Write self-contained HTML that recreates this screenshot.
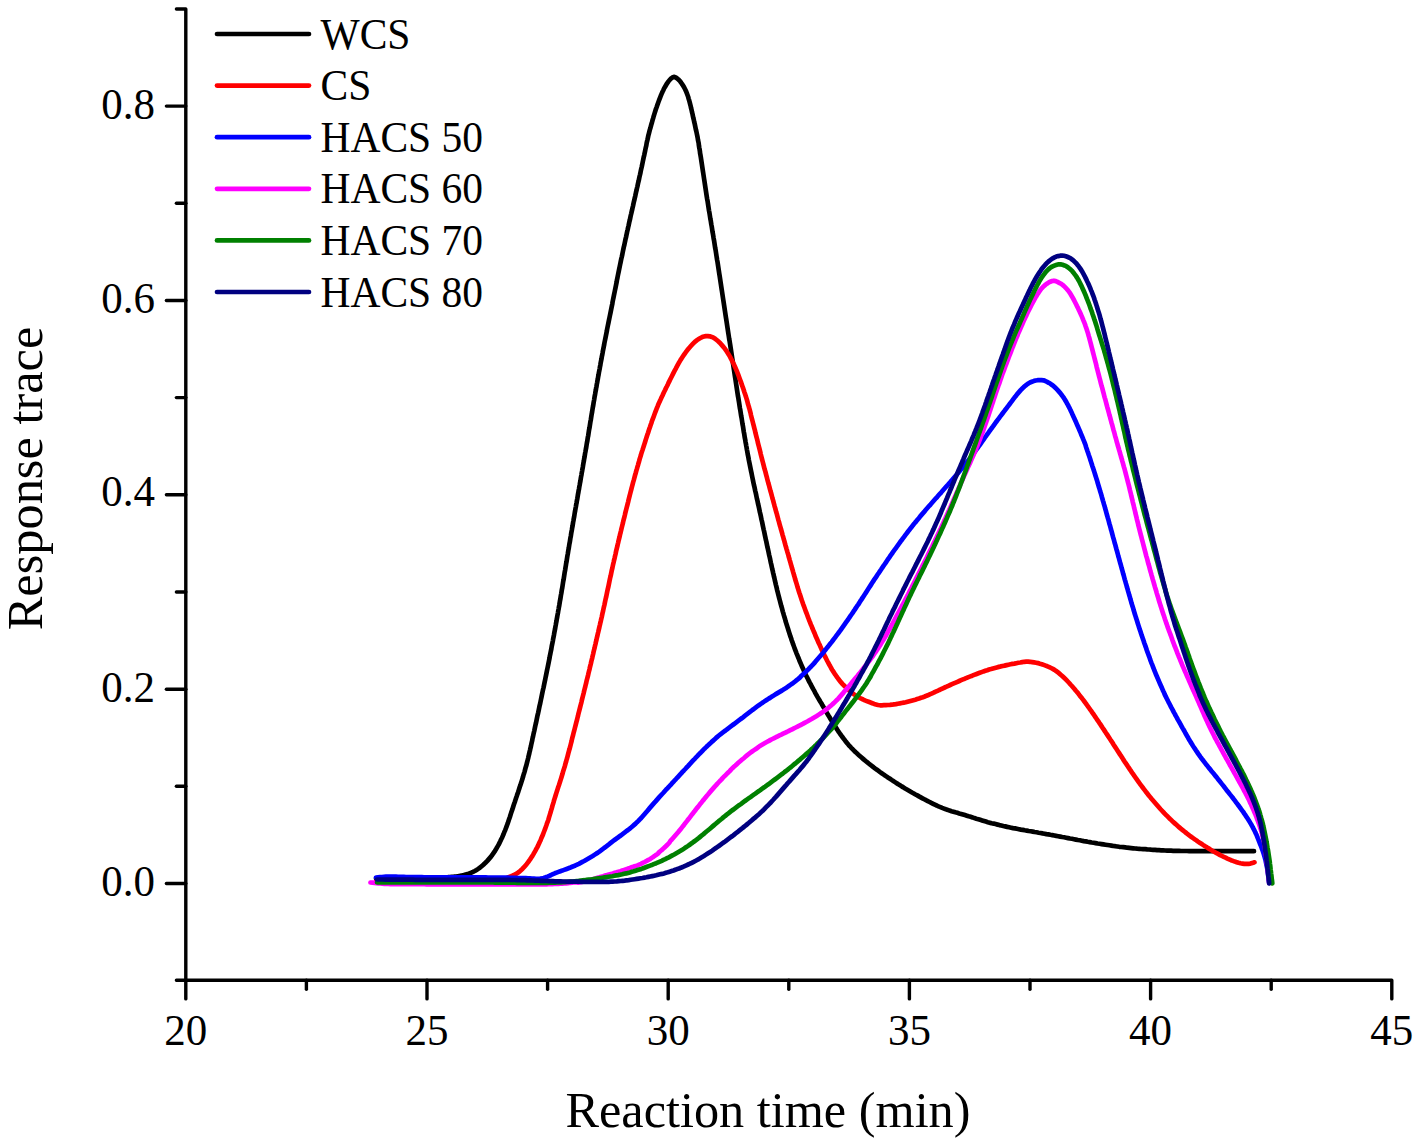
<!DOCTYPE html>
<html><head><meta charset="utf-8"><style>
html,body{margin:0;padding:0;background:#fff;}
svg{display:block;}
text{font-family:"Liberation Serif",serif;fill:#000;}
</style></head><body>
<svg width="1417" height="1144" viewBox="0 0 1417 1144">
<g fill="none" stroke-width="4.7" stroke-linejoin="round" stroke-linecap="round">
<path d="M376.0,878.5 L378.0,878.5 L380.0,878.5 L382.0,878.5 L384.0,878.5 L386.0,878.5 L388.0,878.5 L390.0,878.5 L392.0,878.5 L394.0,878.5 L396.0,878.5 L398.0,878.5 L400.0,878.5 L402.0,878.5 L404.0,878.5 L406.0,878.4 L408.0,878.4 L410.0,878.4 L412.0,878.4 L414.0,878.4 L416.0,878.3 L418.0,878.3 L420.0,878.3 L422.0,878.3 L424.0,878.2 L426.0,878.2 L428.0,878.1 L430.0,878.1 L432.0,878.0 L434.0,877.9 L436.0,877.8 L438.0,877.7 L440.0,877.6 L442.0,877.5 L444.0,877.3 L446.0,877.3 L448.0,877.2 L449.9,877.0 L451.9,876.8 L453.9,876.7 L455.9,876.5 L457.9,876.2 L459.9,875.9 L461.8,875.5 L463.8,875.1 L465.7,874.6 L467.6,874.1 L469.4,873.4 L471.3,872.7 L473.0,871.9 L474.8,871.0 L476.5,870.0 L478.2,868.9 L479.8,867.8 L481.3,866.5 L482.8,865.2 L484.3,863.9 L485.7,862.5 L487.1,861.1 L488.4,859.6 L489.7,858.1 L491.0,856.6 L492.2,855.0 L493.3,853.4 L494.5,851.7 L495.5,850.1 L496.5,848.3 L497.5,846.6 L498.5,844.9 L499.4,843.1 L500.3,841.3 L501.1,839.5 L502.0,837.7 L502.8,835.9 L503.6,834.0 L504.3,832.2 L505.1,830.3 L505.8,828.5 L506.5,826.6 L507.2,824.7 L507.9,822.9 L508.5,821.0 L509.1,819.1 L509.8,817.2 L510.4,815.3 L511.0,813.4 L511.6,811.5 L512.3,809.6 L512.9,807.7 L513.5,805.8 L514.1,803.9 L514.8,802.0 L515.4,800.1 L516.0,798.2 L516.7,796.3 L517.3,794.4 L518.0,792.5 L518.6,790.6 L519.2,788.7 L519.8,786.8 L520.5,784.9 L521.1,783.0 L521.7,781.1 L522.3,779.2 L522.9,777.3 L523.4,775.4 L524.0,773.5 L524.6,771.6 L525.1,769.6 L525.6,767.7 L526.2,765.8 L526.7,763.9 L527.2,761.9 L527.7,760.0 L528.2,758.0 L528.6,756.1 L529.1,754.2 L529.5,752.2 L530.0,750.3 L530.4,748.3 L530.9,746.4 L531.3,744.4 L531.7,742.5 L532.2,740.5 L532.5,738.5 L533.0,736.6 L533.4,734.6 L533.8,732.7 L534.3,730.7 L534.7,728.8 L535.1,726.8 L535.5,724.9 L536.0,722.9 L536.4,721.0 L536.8,719.0 L537.2,717.0 L537.6,715.1 L538.1,713.1 L538.5,711.2 L538.9,709.2 L539.3,707.3 L539.7,705.3 L540.2,703.4 L540.6,701.4 L541.0,699.4 L541.4,697.5 L541.8,695.5 L542.2,693.6 L542.6,691.6 L543.0,689.7 L543.5,687.7 L543.9,685.7 L544.3,683.8 L544.7,681.8 L545.1,679.9 L545.5,677.9 L545.9,676.0 L546.3,674.0 L546.7,672.0 L547.1,670.1 L547.5,668.1 L547.9,666.2 L548.3,664.2 L548.7,662.2 L549.1,660.3 L549.5,658.3 L549.8,656.3 L550.2,654.4 L550.6,652.4 L551.0,650.5 L551.4,648.5 L551.7,646.5 L552.1,644.6 L552.5,642.6 L552.9,640.6 L553.2,638.7 L553.6,636.7 L554.0,634.7 L554.3,632.8 L554.7,630.8 L555.1,628.8 L555.4,626.9 L555.8,624.9 L556.1,622.9 L556.5,621.0 L556.8,619.0 L557.2,617.0 L557.5,615.1 L557.9,613.1 L558.2,611.1 L558.6,609.1 L558.9,607.2 L559.3,605.2 L559.6,603.2 L559.9,601.3 L560.3,599.3 L560.6,597.3 L560.9,595.4 L561.3,593.4 L561.6,591.4 L561.9,589.4 L562.3,587.5 L562.6,585.5 L562.9,583.5 L563.2,581.5 L563.6,579.6 L563.9,577.6 L564.2,575.6 L564.5,573.6 L564.8,571.7 L565.2,569.7 L565.5,567.7 L565.8,565.8 L566.1,563.8 L566.5,561.8 L566.8,559.8 L567.1,557.9 L567.4,555.9 L567.8,553.9 L568.1,551.9 L568.4,550.0 L568.8,548.0 L569.1,546.0 L569.4,544.0 L569.8,542.1 L570.1,540.1 L570.4,538.1 L570.8,536.2 L571.1,534.2 L571.4,532.2 L571.8,530.2 L572.1,528.3 L572.5,526.3 L572.8,524.3 L573.1,522.4 L573.5,520.4 L573.8,518.4 L574.2,516.5 L574.5,514.5 L574.8,512.5 L575.2,510.5 L575.5,508.6 L575.9,506.6 L576.2,504.6 L576.6,502.7 L576.9,500.7 L577.3,498.7 L577.6,496.8 L577.9,494.8 L578.3,492.8 L578.6,490.8 L579.0,488.9 L579.3,486.9 L579.7,484.9 L580.0,483.0 L580.4,481.0 L580.7,479.0 L581.0,477.1 L581.4,475.1 L581.7,473.1 L582.1,471.1 L582.4,469.2 L582.8,467.2 L583.1,465.2 L583.4,463.3 L583.8,461.3 L584.1,459.3 L584.5,457.3 L584.8,455.4 L585.1,453.4 L585.5,451.4 L585.8,449.5 L586.2,447.5 L586.5,445.5 L586.8,443.5 L587.2,441.6 L587.5,439.6 L587.8,437.6 L588.2,435.7 L588.5,433.7 L588.8,431.7 L589.1,429.7 L589.5,427.8 L589.8,425.8 L590.1,423.8 L590.4,421.8 L590.8,419.9 L591.1,417.9 L591.4,415.9 L591.7,414.0 L592.1,412.0 L592.4,410.0 L592.7,408.0 L593.1,406.1 L593.4,404.1 L593.7,402.1 L594.1,400.1 L594.4,398.2 L594.7,396.2 L595.1,394.2 L595.4,392.3 L595.8,390.3 L596.1,388.3 L596.5,386.4 L596.8,384.4 L597.2,382.4 L597.5,380.4 L597.9,378.5 L598.2,376.5 L598.6,374.5 L598.9,372.6 L599.3,370.6 L599.7,368.6 L600.0,366.7 L600.4,364.7 L600.7,362.7 L601.1,360.8 L601.5,358.8 L601.8,356.8 L602.2,354.9 L602.6,352.9 L602.9,350.9 L603.3,349.0 L603.7,347.0 L604.1,345.1 L604.4,343.1 L604.8,341.1 L605.2,339.2 L605.6,337.2 L606.0,335.2 L606.4,333.3 L606.8,331.3 L607.1,329.4 L607.5,327.4 L607.9,325.4 L608.3,323.5 L608.7,321.5 L609.1,319.6 L609.5,317.6 L609.9,315.6 L610.3,313.7 L610.7,311.7 L611.1,309.7 L611.5,307.8 L611.9,305.8 L612.3,303.9 L612.6,301.9 L613.0,299.9 L613.4,298.0 L613.8,296.0 L614.2,294.1 L614.6,292.1 L615.0,290.1 L615.4,288.2 L615.8,286.2 L616.2,284.3 L616.6,282.3 L616.9,280.3 L617.3,278.4 L617.7,276.4 L618.1,274.4 L618.5,272.5 L618.9,270.5 L619.3,268.6 L619.7,266.6 L620.1,264.6 L620.5,262.7 L620.9,260.7 L621.3,258.8 L621.8,256.8 L622.2,254.9 L622.6,252.9 L623.0,250.9 L623.4,249.0 L623.8,247.0 L624.3,245.1 L624.7,243.1 L625.1,241.2 L625.5,239.2 L626.0,237.3 L626.4,235.3 L626.8,233.4 L627.2,231.4 L627.7,229.5 L628.1,227.5 L628.6,225.5 L629.0,223.6 L629.4,221.6 L629.9,219.7 L630.3,217.7 L630.7,215.8 L631.2,213.8 L631.6,211.9 L632.1,209.9 L632.5,208.0 L633.0,206.0 L633.4,204.1 L633.8,202.1 L634.3,200.2 L634.7,198.2 L635.2,196.3 L635.6,194.3 L636.0,192.4 L636.5,190.4 L636.9,188.5 L637.4,186.5 L637.8,184.6 L638.2,182.6 L638.7,180.7 L639.1,178.7 L639.5,176.8 L640.0,174.8 L640.4,172.9 L640.8,170.9 L641.2,169.0 L641.7,167.0 L642.1,165.1 L642.5,163.1 L642.9,161.1 L643.3,159.2 L643.7,157.2 L644.2,155.3 L644.6,153.3 L645.0,151.4 L645.4,149.4 L645.8,147.5 L646.3,145.5 L646.6,143.5 L647.0,141.6 L647.5,139.6 L647.9,137.7 L648.3,135.7 L648.8,133.8 L649.3,131.9 L649.8,129.9 L650.4,128.0 L650.9,126.1 L651.4,124.2 L652.0,122.2 L652.5,120.3 L653.1,118.4 L653.6,116.5 L654.2,114.6 L654.8,112.6 L655.4,110.7 L656.0,108.8 L656.7,107.0 L657.3,105.1 L658.0,103.2 L658.7,101.3 L659.4,99.4 L660.1,97.6 L660.8,95.7 L661.6,93.9 L662.4,92.0 L663.3,90.2 L664.1,88.4 L665.1,86.7 L666.1,85.0 L667.1,83.3 L668.3,81.6 L669.5,80.1 L670.9,78.7 L672.4,77.5 L673.9,76.9 L675.4,77.2 L676.9,78.2 L678.4,79.5 L679.8,80.9 L681.0,82.5 L682.1,84.1 L683.2,85.8 L684.2,87.5 L685.1,89.3 L686.0,91.1 L686.7,92.9 L687.4,94.8 L688.1,96.7 L688.6,98.6 L689.2,100.5 L689.7,102.4 L690.2,104.3 L690.7,106.3 L691.1,108.2 L691.6,110.1 L692.0,112.1 L692.5,114.0 L692.9,116.0 L693.3,117.9 L693.8,119.9 L694.2,121.9 L694.7,123.8 L695.1,125.8 L695.5,127.7 L695.9,129.7 L696.4,131.6 L696.8,133.6 L697.2,135.5 L697.6,137.5 L697.9,139.5 L698.3,141.4 L698.7,143.4 L698.9,145.4 L699.2,147.4 L699.6,149.3 L699.9,151.3 L700.1,153.3 L700.5,155.3 L700.8,157.2 L701.1,159.2 L701.4,161.2 L701.7,163.2 L702.0,165.1 L702.3,167.1 L702.6,169.1 L702.9,171.1 L703.2,173.0 L703.5,175.0 L703.8,177.0 L704.1,179.0 L704.4,180.9 L704.7,182.9 L705.0,184.9 L705.3,186.9 L705.6,188.9 L705.9,190.8 L706.2,192.8 L706.5,194.8 L706.8,196.8 L707.1,198.7 L707.5,200.7 L707.8,202.7 L708.1,204.7 L708.4,206.6 L708.7,208.6 L709.0,210.6 L709.4,212.6 L709.7,214.5 L710.0,216.5 L710.3,218.5 L710.7,220.4 L711.0,222.4 L711.3,224.4 L711.7,226.4 L712.0,228.3 L712.3,230.3 L712.6,232.3 L713.0,234.3 L713.3,236.2 L713.6,238.2 L714.0,240.2 L714.3,242.1 L714.6,244.1 L714.9,246.1 L715.2,248.1 L715.6,250.0 L715.9,252.0 L716.2,254.0 L716.5,256.0 L716.8,257.9 L717.1,259.9 L717.5,261.9 L717.8,263.9 L718.1,265.8 L718.4,267.8 L718.7,269.8 L719.0,271.8 L719.3,273.8 L719.6,275.7 L719.9,277.7 L720.2,279.7 L720.5,281.7 L720.8,283.6 L721.1,285.6 L721.4,287.6 L721.7,289.6 L722.0,291.5 L722.3,293.5 L722.6,295.5 L722.9,297.5 L723.2,299.5 L723.5,301.4 L723.8,303.4 L724.1,305.4 L724.4,307.4 L724.7,309.3 L725.0,311.3 L725.3,313.3 L725.6,315.3 L725.9,317.3 L726.2,319.2 L726.5,321.2 L726.8,323.2 L727.1,325.2 L727.4,327.1 L727.7,329.1 L728.0,331.1 L728.3,333.1 L728.6,335.0 L728.9,337.0 L729.2,339.0 L729.6,341.0 L729.9,343.0 L730.2,344.9 L730.5,346.9 L730.8,348.9 L731.1,350.9 L731.4,352.8 L731.7,354.8 L732.0,356.8 L732.3,358.8 L732.6,360.7 L732.9,362.7 L733.2,364.7 L733.5,366.7 L733.8,368.7 L734.1,370.6 L734.4,372.6 L734.7,374.6 L735.0,376.6 L735.3,378.5 L735.6,380.5 L735.9,382.5 L736.2,384.5 L736.5,386.4 L736.8,388.4 L737.1,390.4 L737.4,392.4 L737.7,394.3 L738.0,396.3 L738.4,398.3 L738.7,400.3 L739.0,402.2 L739.3,404.2 L739.6,406.2 L739.9,408.2 L740.3,410.1 L740.6,412.1 L740.9,414.1 L741.2,416.1 L741.6,418.0 L741.9,420.0 L742.2,422.0 L742.5,424.0 L742.9,425.9 L743.2,427.9 L743.5,429.9 L743.8,431.9 L744.2,433.8 L744.5,435.8 L744.8,437.8 L745.2,439.7 L745.5,441.7 L745.9,443.7 L746.2,445.6 L746.6,447.6 L746.9,449.6 L747.3,451.6 L747.6,453.5 L748.0,455.5 L748.4,457.4 L748.7,459.4 L749.1,461.4 L749.5,463.3 L749.9,465.3 L750.3,467.3 L750.7,469.2 L751.1,471.2 L751.5,473.1 L751.9,475.1 L752.3,477.1 L752.7,479.0 L753.1,481.0 L753.5,482.9 L753.9,484.9 L754.4,486.8 L754.8,488.8 L755.2,490.7 L755.7,492.7 L756.1,494.6 L756.5,496.6 L756.9,498.6 L757.4,500.5 L757.8,502.5 L758.2,504.4 L758.7,506.4 L759.1,508.3 L759.5,510.3 L759.9,512.2 L760.4,514.2 L760.8,516.1 L761.2,518.1 L761.6,520.0 L762.1,522.0 L762.5,524.0 L762.9,525.9 L763.3,527.9 L763.7,529.8 L764.2,531.8 L764.6,533.7 L765.0,535.7 L765.4,537.6 L765.8,539.6 L766.3,541.5 L766.7,543.5 L767.1,545.5 L767.5,547.4 L768.0,549.4 L768.4,551.3 L768.8,553.3 L769.2,555.2 L769.7,557.2 L770.1,559.1 L770.5,561.1 L770.9,563.0 L771.4,565.0 L771.8,566.9 L772.2,568.9 L772.7,570.8 L773.1,572.8 L773.6,574.7 L774.0,576.7 L774.5,578.6 L774.9,580.6 L775.4,582.5 L775.8,584.5 L776.3,586.4 L776.8,588.4 L777.2,590.3 L777.7,592.2 L778.2,594.2 L778.7,596.1 L779.2,598.1 L779.7,600.0 L780.2,601.9 L780.7,603.8 L781.2,605.8 L781.8,607.7 L782.3,609.6 L782.8,611.6 L783.4,613.5 L783.9,615.4 L784.5,617.3 L785.1,619.2 L785.6,621.2 L786.2,623.1 L786.8,625.0 L787.4,626.9 L788.0,628.8 L788.6,630.7 L789.2,632.6 L789.8,634.5 L790.4,636.4 L791.1,638.3 L791.7,640.2 L792.4,642.1 L793.0,643.9 L793.7,645.8 L794.4,647.7 L795.1,649.6 L795.8,651.4 L796.5,653.3 L797.3,655.2 L798.0,657.0 L798.8,658.8 L799.5,660.7 L800.3,662.5 L801.1,664.4 L801.9,666.2 L802.7,668.0 L803.5,669.8 L804.3,671.7 L805.2,673.5 L806.0,675.2 L806.9,677.0 L807.8,678.8 L808.7,680.6 L809.6,682.4 L810.6,684.1 L811.5,685.9 L812.4,687.6 L813.4,689.4 L814.4,691.1 L815.2,692.9 L816.2,694.6 L817.2,696.4 L818.2,698.1 L819.2,699.8 L820.2,701.5 L821.3,703.2 L822.3,705.0 L823.3,706.7 L824.3,708.4 L825.3,710.1 L826.3,711.9 L827.3,713.6 L828.3,715.3 L829.4,717.0 L830.4,718.7 L831.4,720.4 L832.5,722.1 L833.5,723.8 L834.6,725.5 L835.7,727.1 L836.7,728.9 L837.8,730.5 L838.9,732.2 L840.1,733.8 L841.2,735.4 L842.4,737.0 L843.6,738.6 L844.8,740.2 L846.0,741.8 L847.2,743.3 L848.5,744.8 L849.9,746.3 L851.2,747.8 L852.6,749.2 L854.0,750.6 L855.4,752.0 L856.9,753.3 L858.3,754.7 L859.8,756.0 L861.3,757.3 L862.8,758.6 L864.3,759.9 L865.9,761.2 L867.4,762.4 L869.0,763.7 L870.5,764.9 L872.1,766.1 L873.7,767.4 L875.3,768.6 L876.9,769.7 L878.5,770.9 L880.1,772.1 L881.7,773.2 L883.4,774.4 L885.0,775.5 L886.7,776.6 L888.3,777.7 L890.0,778.8 L891.6,779.9 L893.3,781.0 L895.0,782.1 L896.7,783.2 L898.3,784.3 L900.0,785.3 L901.7,786.4 L903.4,787.4 L905.1,788.5 L906.9,789.5 L908.6,790.5 L910.3,791.5 L912.0,792.5 L913.8,793.5 L915.5,794.5 L917.3,795.4 L919.0,796.4 L920.8,797.4 L922.5,798.3 L924.3,799.3 L926.0,800.2 L927.8,801.1 L929.6,802.0 L931.3,802.9 L933.1,803.8 L934.9,804.7 L936.7,805.5 L938.5,806.4 L940.4,807.1 L942.2,807.9 L944.0,808.6 L945.9,809.3 L947.8,809.9 L949.6,810.6 L951.5,811.2 L953.4,811.7 L955.4,812.3 L957.3,812.8 L959.2,813.4 L961.1,813.9 L963.0,814.5 L964.9,815.1 L966.8,815.7 L968.7,816.3 L970.6,816.8 L972.5,817.4 L974.4,818.1 L976.3,818.7 L978.3,819.2 L980.2,819.8 L982.1,820.4 L984.0,821.0 L985.9,821.6 L987.8,822.2 L989.7,822.7 L991.6,823.3 L993.6,823.6 L995.5,824.1 L997.5,824.6 L999.4,825.1 L1001.3,825.5 L1003.3,826.0 L1005.2,826.4 L1007.2,826.9 L1009.1,827.3 L1011.1,827.7 L1013.0,828.1 L1015.0,828.4 L1016.9,828.8 L1018.9,829.2 L1020.9,829.6 L1022.8,829.9 L1024.8,830.3 L1026.8,830.6 L1028.7,831.0 L1030.7,831.3 L1032.7,831.6 L1034.6,832.0 L1036.6,832.3 L1038.6,832.7 L1040.5,833.0 L1042.5,833.4 L1044.5,833.7 L1046.4,834.1 L1048.4,834.4 L1050.4,834.8 L1052.3,835.1 L1054.3,835.5 L1056.3,835.9 L1058.2,836.2 L1060.2,836.6 L1062.2,837.0 L1064.1,837.3 L1066.1,837.7 L1068.1,838.1 L1070.0,838.5 L1072.0,838.8 L1074.0,839.2 L1075.9,839.6 L1077.9,840.0 L1079.9,840.3 L1081.8,840.7 L1083.8,841.1 L1085.8,841.4 L1087.7,841.8 L1089.7,842.1 L1091.7,842.5 L1093.6,842.8 L1095.6,843.1 L1097.6,843.5 L1099.5,843.8 L1101.5,844.1 L1103.5,844.4 L1105.5,844.7 L1107.4,845.0 L1109.4,845.3 L1111.4,845.6 L1113.4,846.0 L1115.3,846.2 L1117.3,846.5 L1119.3,846.8 L1121.3,847.0 L1123.3,847.2 L1125.3,847.4 L1127.2,847.7 L1129.2,847.9 L1131.2,848.1 L1133.2,848.3 L1135.2,848.5 L1137.2,848.7 L1139.2,848.8 L1141.2,849.0 L1143.2,849.2 L1145.2,849.2 L1147.2,849.4 L1149.1,849.5 L1151.1,849.7 L1153.1,849.8 L1155.1,849.9 L1157.1,850.1 L1159.1,850.2 L1161.1,850.3 L1163.1,850.4 L1165.1,850.5 L1167.1,850.6 L1169.1,850.6 L1171.1,850.7 L1173.1,850.8 L1175.1,850.8 L1177.1,850.9 L1179.1,850.9 L1181.1,851.0 L1183.1,851.0 L1185.1,851.0 L1187.1,851.0 L1189.1,851.1 L1191.1,851.1 L1193.1,851.1 L1195.1,851.1 L1197.1,851.1 L1199.1,851.2 L1201.1,851.2 L1203.1,851.2 L1205.1,851.2 L1207.1,851.2 L1209.1,851.2 L1211.1,851.2 L1213.1,851.2 L1215.1,851.2 L1217.1,851.2 L1219.1,851.2 L1221.1,851.2 L1223.1,851.2 L1225.1,851.2 L1227.1,851.2 L1229.1,851.2 L1231.1,851.2 L1233.1,851.2 L1235.1,851.2 L1237.1,851.2 L1239.1,851.2 L1241.1,851.2 L1243.1,851.2 L1245.1,851.2 L1247.1,851.2 L1249.1,851.2 L1251.1,851.2 L1253.1,851.2 L1254.0,851.2" stroke="#000000"/>
<path d="M376.0,881.5 L378.0,881.5 L380.0,881.5 L382.0,881.5 L384.0,881.5 L386.0,881.5 L388.0,881.5 L390.0,881.5 L392.0,881.5 L394.0,881.5 L396.0,881.5 L398.0,881.5 L400.0,881.5 L402.0,881.5 L404.0,881.5 L406.0,881.5 L408.0,881.5 L410.0,881.5 L412.0,881.5 L414.0,881.5 L416.0,881.5 L418.0,881.5 L420.0,881.5 L422.0,881.5 L424.0,881.5 L426.0,881.5 L428.0,881.4 L430.0,881.4 L432.0,881.4 L434.0,881.4 L436.0,881.4 L438.0,881.4 L440.0,881.4 L442.0,881.4 L444.0,881.4 L446.0,881.3 L448.0,881.3 L450.0,881.3 L452.0,881.3 L454.0,881.3 L456.0,881.3 L458.0,881.3 L460.0,881.2 L462.0,881.2 L464.0,881.2 L466.0,881.2 L468.0,881.2 L470.0,881.1 L472.0,881.1 L474.0,881.1 L476.0,881.0 L478.0,881.0 L480.0,881.0 L482.0,880.9 L484.0,880.9 L486.0,880.8 L488.0,880.8 L490.0,880.7 L492.0,880.7 L494.0,880.6 L496.0,880.6 L498.0,880.4 L499.9,880.2 L501.9,879.7 L503.7,879.1 L505.6,878.4 L507.5,877.7 L509.3,876.9 L511.2,876.2 L513.0,875.4 L514.8,874.5 L516.6,873.6 L518.2,872.5 L519.8,871.3 L521.2,870.0 L522.6,868.7 L524.0,867.2 L525.3,865.7 L526.6,864.2 L527.8,862.6 L529.0,861.0 L530.1,859.4 L531.2,857.7 L532.3,856.1 L533.3,854.4 L534.3,852.6 L535.3,850.9 L536.2,849.2 L537.2,847.4 L538.1,845.6 L538.9,843.8 L539.7,842.0 L540.6,840.2 L541.3,838.3 L542.1,836.5 L542.9,834.7 L543.6,832.8 L544.3,831.0 L545.0,829.1 L545.7,827.2 L546.4,825.3 L547.0,823.4 L547.7,821.6 L548.4,819.7 L548.9,817.8 L549.5,815.9 L550.1,813.9 L550.7,812.0 L551.2,810.1 L551.8,808.2 L552.3,806.3 L552.9,804.4 L553.5,802.4 L554.0,800.5 L554.6,798.6 L555.2,796.7 L555.8,794.8 L556.4,792.9 L557.0,791.0 L557.6,789.1 L558.2,787.2 L558.9,785.3 L559.5,783.4 L560.1,781.5 L560.7,779.6 L561.3,777.7 L561.9,775.7 L562.5,773.8 L563.0,771.9 L563.6,770.0 L564.2,768.1 L564.8,766.2 L565.3,764.3 L565.9,762.3 L566.4,760.4 L567.0,758.5 L567.5,756.6 L568.0,754.6 L568.5,752.7 L569.0,750.8 L569.6,748.8 L570.1,746.9 L570.6,745.0 L571.1,743.0 L571.6,741.1 L572.0,739.1 L572.5,737.2 L573.0,735.3 L573.5,733.3 L574.0,731.4 L574.5,729.5 L575.0,727.5 L575.5,725.6 L576.0,723.6 L576.5,721.7 L577.0,719.8 L577.5,717.8 L578.0,715.9 L578.4,713.9 L578.9,712.0 L579.4,710.1 L579.9,708.1 L580.4,706.2 L580.9,704.2 L581.4,702.3 L581.8,700.4 L582.3,698.4 L582.8,696.5 L583.3,694.5 L583.8,692.6 L584.2,690.7 L584.7,688.7 L585.2,686.8 L585.7,684.8 L586.2,682.9 L586.6,680.9 L587.1,679.0 L587.6,677.1 L588.1,675.1 L588.5,673.2 L589.0,671.2 L589.5,669.3 L589.9,667.3 L590.4,665.4 L590.9,663.5 L591.3,661.5 L591.8,659.6 L592.3,657.6 L592.7,655.7 L593.2,653.7 L593.6,651.8 L594.1,649.8 L594.6,647.9 L595.0,645.9 L595.5,644.0 L595.9,642.0 L596.4,640.1 L596.8,638.1 L597.3,636.2 L597.7,634.3 L598.2,632.3 L598.6,630.4 L599.1,628.4 L599.5,626.5 L600.0,624.5 L600.4,622.6 L600.9,620.6 L601.3,618.7 L601.8,616.7 L602.2,614.8 L602.6,612.8 L603.1,610.9 L603.5,608.9 L603.9,607.0 L604.4,605.0 L604.8,603.0 L605.2,601.1 L605.6,599.1 L606.1,597.2 L606.5,595.2 L606.9,593.3 L607.3,591.3 L607.7,589.4 L608.2,587.4 L608.6,585.5 L609.0,583.5 L609.4,581.5 L609.8,579.6 L610.2,577.6 L610.7,575.7 L611.1,573.7 L611.5,571.8 L611.9,569.8 L612.4,567.9 L612.8,565.9 L613.2,564.0 L613.7,562.0 L614.1,560.1 L614.6,558.1 L615.0,556.2 L615.5,554.2 L615.9,552.3 L616.3,550.3 L616.8,548.4 L617.3,546.4 L617.7,544.5 L618.2,542.5 L618.6,540.6 L619.1,538.6 L619.6,536.7 L620.0,534.7 L620.5,532.8 L621.0,530.8 L621.4,528.9 L621.9,527.0 L622.4,525.0 L622.9,523.1 L623.3,521.1 L623.8,519.2 L624.3,517.3 L624.8,515.3 L625.2,513.4 L625.7,511.4 L626.2,509.5 L626.7,507.5 L627.2,505.6 L627.7,503.7 L628.2,501.7 L628.6,499.8 L629.1,497.9 L629.6,495.9 L630.1,494.0 L630.6,492.0 L631.1,490.1 L631.6,488.2 L632.1,486.2 L632.6,484.3 L633.1,482.4 L633.7,480.4 L634.2,478.5 L634.7,476.6 L635.2,474.7 L635.8,472.7 L636.3,470.8 L636.9,468.9 L637.4,467.0 L638.0,465.1 L638.5,463.2 L639.1,461.2 L639.6,459.3 L640.2,457.4 L640.8,455.5 L641.3,453.6 L641.9,451.7 L642.6,449.8 L643.2,447.9 L643.8,446.0 L644.4,444.1 L645.0,442.2 L645.6,440.3 L646.2,438.4 L646.8,436.5 L647.4,434.6 L648.1,432.7 L648.7,430.8 L649.3,428.9 L650.0,427.0 L650.6,425.1 L651.3,423.2 L651.9,421.3 L652.6,419.4 L653.3,417.6 L654.0,415.7 L654.7,413.8 L655.4,411.9 L656.1,410.1 L656.8,408.2 L657.6,406.4 L658.3,404.5 L659.1,402.7 L660.0,400.9 L660.8,399.1 L661.6,397.3 L662.5,395.5 L663.3,393.6 L664.2,391.8 L665.1,390.0 L665.9,388.2 L666.8,386.5 L667.7,384.7 L668.5,382.9 L669.4,381.1 L670.3,379.3 L671.2,377.5 L672.1,375.7 L673.0,373.9 L673.9,372.1 L674.8,370.4 L675.8,368.6 L676.7,366.8 L677.6,365.1 L678.6,363.3 L679.6,361.6 L680.6,359.9 L681.7,358.2 L682.8,356.5 L683.9,354.9 L685.0,353.3 L686.2,351.7 L687.4,350.1 L688.7,348.5 L690.0,347.0 L691.3,345.5 L692.6,344.1 L694.0,342.7 L695.5,341.3 L697.0,340.1 L698.7,339.0 L700.4,338.0 L702.2,337.1 L704.0,336.5 L705.9,336.1 L707.9,336.1 L709.8,336.3 L711.7,336.9 L713.5,337.7 L715.2,338.8 L716.7,340.0 L718.2,341.3 L719.7,342.7 L721.0,344.1 L722.3,345.6 L723.6,347.1 L724.8,348.7 L726.0,350.3 L727.1,352.0 L728.2,353.7 L729.2,355.4 L730.2,357.1 L731.1,358.9 L732.0,360.6 L732.9,362.4 L733.8,364.2 L734.6,366.0 L735.4,367.8 L736.2,369.7 L737.0,371.5 L737.7,373.4 L738.4,375.2 L739.1,377.1 L739.8,379.0 L740.5,380.9 L741.2,382.7 L741.8,384.6 L742.5,386.5 L743.2,388.4 L743.8,390.3 L744.4,392.2 L745.1,394.1 L745.7,396.0 L746.3,397.9 L746.9,399.8 L747.4,401.7 L747.9,403.7 L748.5,405.6 L749.0,407.5 L749.6,409.4 L750.1,411.3 L750.6,413.3 L751.0,415.2 L751.5,417.2 L752.0,419.1 L752.5,421.0 L753.0,423.0 L753.5,424.9 L754.0,426.9 L754.5,428.8 L755.0,430.7 L755.4,432.7 L755.9,434.6 L756.4,436.6 L756.9,438.5 L757.4,440.4 L757.8,442.4 L758.3,444.3 L758.8,446.3 L759.3,448.2 L759.8,450.1 L760.3,452.1 L760.7,454.0 L761.2,456.0 L761.7,457.9 L762.2,459.8 L762.7,461.8 L763.2,463.7 L763.7,465.6 L764.2,467.6 L764.7,469.5 L765.3,471.4 L765.8,473.4 L766.3,475.3 L766.8,477.2 L767.3,479.2 L767.8,481.1 L768.3,483.0 L768.9,485.0 L769.4,486.9 L769.9,488.8 L770.4,490.8 L771.0,492.7 L771.5,494.6 L772.0,496.5 L772.5,498.5 L773.1,500.4 L773.6,502.3 L774.1,504.3 L774.6,506.2 L775.2,508.1 L775.7,510.1 L776.2,512.0 L776.8,513.9 L777.3,515.8 L777.8,517.8 L778.3,519.7 L778.9,521.6 L779.4,523.6 L779.9,525.5 L780.5,527.4 L781.0,529.3 L781.6,531.3 L782.1,533.2 L782.6,535.1 L783.2,537.0 L783.7,539.0 L784.3,540.9 L784.8,542.8 L785.3,544.7 L785.9,546.7 L786.4,548.6 L787.0,550.5 L787.5,552.4 L788.1,554.3 L788.6,556.3 L789.2,558.2 L789.7,560.1 L790.3,562.0 L790.8,564.0 L791.4,565.9 L791.9,567.8 L792.5,569.7 L793.0,571.6 L793.6,573.6 L794.1,575.5 L794.7,577.4 L795.2,579.3 L795.8,581.2 L796.4,583.1 L797.0,585.1 L797.5,587.0 L798.1,588.9 L798.7,590.8 L799.3,592.7 L800.0,594.6 L800.6,596.5 L801.2,598.4 L801.8,600.3 L802.5,602.2 L803.1,604.0 L803.8,605.9 L804.5,607.8 L805.2,609.7 L805.9,611.6 L806.6,613.4 L807.3,615.3 L808.0,617.2 L808.7,619.0 L809.4,620.9 L810.2,622.7 L810.9,624.6 L811.7,626.4 L812.4,628.3 L813.2,630.1 L814.0,632.0 L814.8,633.8 L815.5,635.7 L816.3,637.5 L817.1,639.3 L817.9,641.2 L818.7,643.0 L819.6,644.8 L820.4,646.6 L821.2,648.4 L822.0,650.2 L822.9,652.1 L823.8,653.9 L824.6,655.6 L825.5,657.4 L826.4,659.2 L827.3,661.0 L828.2,662.7 L829.2,664.5 L830.2,666.2 L831.1,668.0 L832.1,669.7 L833.2,671.4 L834.2,673.0 L835.3,674.7 L836.5,676.3 L837.6,677.9 L838.8,679.5 L840.0,681.1 L841.3,682.6 L842.6,684.1 L844.0,685.5 L845.4,686.9 L846.8,688.3 L848.3,689.6 L849.7,691.0 L851.3,692.2 L852.8,693.4 L854.4,694.6 L856.1,695.7 L857.8,696.7 L859.5,697.7 L861.3,698.7 L863.1,699.5 L864.9,700.4 L866.7,701.1 L868.6,701.8 L870.5,702.5 L872.3,703.2 L874.2,703.9 L876.1,704.5 L878.0,705.0 L880.0,705.3 L881.9,705.3 L883.9,705.2 L885.9,705.1 L887.9,705.0 L889.9,704.9 L891.9,704.7 L893.9,704.4 L895.9,704.1 L897.8,703.7 L899.8,703.4 L901.7,703.0 L903.7,702.6 L905.7,702.2 L907.6,701.7 L909.5,701.2 L911.5,700.7 L913.4,700.2 L915.3,699.7 L917.2,699.1 L919.1,698.5 L921.0,697.8 L922.9,697.2 L924.8,696.5 L926.6,695.7 L928.4,695.0 L930.3,694.2 L932.1,693.4 L933.9,692.5 L935.7,691.7 L937.5,690.9 L939.3,690.0 L941.1,689.2 L942.9,688.3 L944.7,687.5 L946.5,686.7 L948.4,685.8 L950.2,685.0 L952.0,684.2 L953.8,683.4 L955.7,682.6 L957.5,681.8 L959.3,681.0 L961.1,680.2 L963.0,679.4 L964.8,678.7 L966.7,677.9 L968.5,677.1 L970.4,676.4 L972.2,675.7 L974.1,674.9 L976.0,674.2 L977.8,673.5 L979.7,672.8 L981.6,672.1 L983.5,671.4 L985.3,670.8 L987.2,670.2 L989.1,669.5 L991.0,669.0 L993.0,668.4 L994.9,667.9 L996.8,667.4 L998.8,666.9 L1000.7,666.4 L1002.6,666.0 L1004.6,665.6 L1006.6,665.1 L1008.5,664.7 L1010.5,664.3 L1012.4,663.9 L1014.4,663.6 L1016.4,663.2 L1018.3,662.8 L1020.3,662.5 L1022.3,662.1 L1024.2,661.8 L1026.2,661.6 L1028.2,661.6 L1030.1,661.8 L1032.1,662.1 L1034.1,662.4 L1036.1,662.7 L1038.0,663.1 L1039.9,663.7 L1041.8,664.2 L1043.7,664.9 L1045.6,665.6 L1047.4,666.3 L1049.3,667.1 L1051.1,668.0 L1052.8,668.9 L1054.5,669.9 L1056.1,671.0 L1057.7,672.2 L1059.2,673.4 L1060.7,674.7 L1062.2,676.0 L1063.6,677.3 L1065.1,678.7 L1066.5,680.1 L1067.8,681.5 L1069.2,683.0 L1070.5,684.5 L1071.9,686.0 L1073.2,687.5 L1074.5,689.0 L1075.7,690.5 L1077.0,692.0 L1078.3,693.6 L1079.5,695.2 L1080.7,696.7 L1082.0,698.3 L1083.2,699.9 L1084.4,701.5 L1085.6,703.1 L1086.7,704.7 L1087.9,706.3 L1089.1,708.0 L1090.2,709.6 L1091.4,711.2 L1092.5,712.9 L1093.7,714.5 L1094.8,716.2 L1095.9,717.8 L1097.0,719.5 L1098.2,721.1 L1099.3,722.8 L1100.4,724.4 L1101.5,726.1 L1102.6,727.8 L1103.7,729.4 L1104.8,731.1 L1105.9,732.8 L1107.0,734.4 L1108.1,736.1 L1109.2,737.8 L1110.3,739.5 L1111.4,741.1 L1112.5,742.8 L1113.5,744.5 L1114.6,746.2 L1115.7,747.8 L1116.8,749.5 L1117.9,751.2 L1119.0,752.9 L1120.1,754.6 L1121.2,756.2 L1122.3,757.9 L1123.3,759.6 L1124.4,761.3 L1125.5,762.9 L1126.7,764.6 L1127.8,766.3 L1128.9,767.9 L1130.0,769.6 L1131.1,771.2 L1132.2,772.9 L1133.4,774.5 L1134.5,776.2 L1135.7,777.8 L1136.8,779.4 L1138.0,781.1 L1139.1,782.7 L1140.3,784.3 L1141.5,785.9 L1142.7,787.5 L1143.9,789.1 L1145.1,790.7 L1146.3,792.3 L1147.5,793.8 L1148.8,795.4 L1150.0,796.9 L1151.3,798.5 L1152.6,800.0 L1153.9,801.5 L1155.2,803.0 L1156.5,804.5 L1157.8,806.0 L1159.1,807.5 L1160.4,809.0 L1161.8,810.5 L1163.1,811.9 L1164.5,813.4 L1165.9,814.8 L1167.3,816.2 L1168.7,817.6 L1170.1,819.0 L1171.6,820.4 L1173.0,821.8 L1174.5,823.1 L1176.0,824.4 L1177.5,825.8 L1179.0,827.1 L1180.5,828.4 L1182.0,829.6 L1183.6,830.9 L1185.2,832.1 L1186.7,833.4 L1188.3,834.6 L1189.9,835.8 L1191.5,837.0 L1193.1,838.1 L1194.8,839.3 L1196.4,840.4 L1198.0,841.6 L1199.7,842.7 L1201.4,843.8 L1203.0,844.9 L1204.7,846.0 L1206.4,847.0 L1208.1,848.1 L1209.8,849.1 L1211.5,850.2 L1213.2,851.2 L1215.0,852.2 L1216.7,853.2 L1218.5,854.1 L1220.2,855.1 L1222.0,856.0 L1223.8,856.9 L1225.6,857.7 L1227.4,858.6 L1229.2,859.4 L1231.0,860.2 L1232.9,860.9 L1234.8,861.6 L1236.7,862.2 L1238.6,862.8 L1240.5,863.3 L1242.5,863.6 L1244.4,863.9 L1246.4,863.9 L1248.4,863.8 L1250.4,863.6 L1252.3,863.0 L1254.1,862.4 L1254.5,862.3" stroke="#ff0000"/>
<path d="M376.0,877.5 L378.0,877.3 L380.0,877.1 L382.0,877.0 L384.0,876.8 L386.0,876.6 L388.0,876.6 L390.0,876.6 L392.0,876.6 L394.0,876.7 L396.0,876.7 L398.0,876.8 L400.0,876.8 L402.0,876.9 L403.9,876.9 L405.9,877.0 L407.9,877.0 L409.9,877.1 L411.9,877.1 L413.9,877.1 L415.9,877.2 L417.9,877.2 L419.9,877.2 L421.9,877.2 L423.9,877.3 L425.9,877.3 L427.9,877.3 L429.9,877.3 L431.9,877.3 L433.9,877.3 L435.9,877.3 L437.9,877.3 L439.9,877.3 L441.9,877.3 L443.9,877.3 L445.9,877.3 L447.9,877.3 L449.9,877.3 L451.9,877.3 L453.9,877.3 L455.9,877.3 L457.9,877.3 L459.9,877.3 L461.9,877.3 L463.9,877.3 L465.9,877.3 L467.9,877.4 L469.9,877.4 L471.9,877.4 L473.9,877.4 L475.9,877.4 L477.9,877.4 L479.9,877.4 L481.9,877.4 L483.9,877.4 L485.9,877.4 L487.9,877.5 L489.9,877.5 L491.9,877.5 L493.9,877.5 L495.9,877.5 L497.9,877.6 L499.9,877.6 L501.9,877.6 L503.9,877.6 L505.9,877.7 L507.9,877.7 L509.9,877.8 L511.9,877.8 L513.9,877.9 L515.9,877.9 L517.9,878.0 L519.9,878.0 L521.9,878.1 L523.9,878.2 L525.9,878.2 L527.9,878.3 L529.9,878.4 L531.9,878.5 L533.9,878.7 L535.9,878.9 L537.9,878.9 L539.8,878.8 L541.8,878.4 L543.7,877.9 L545.6,877.3 L547.5,876.6 L549.3,875.8 L551.1,875.0 L552.9,874.1 L554.8,873.3 L556.6,872.6 L558.5,871.9 L560.4,871.2 L562.2,870.6 L564.1,869.9 L566.0,869.2 L567.9,868.5 L569.7,867.8 L571.6,867.0 L573.4,866.3 L575.3,865.5 L577.1,864.6 L578.9,863.8 L580.6,862.9 L582.4,861.9 L584.2,861.0 L585.9,860.0 L587.6,859.0 L589.3,858.0 L591.0,857.0 L592.7,856.0 L594.4,854.9 L596.1,853.8 L597.7,852.7 L599.4,851.6 L601.0,850.4 L602.6,849.2 L604.1,848.0 L605.7,846.8 L607.3,845.6 L608.9,844.4 L610.4,843.2 L612.0,841.9 L613.6,840.7 L615.2,839.5 L616.8,838.3 L618.4,837.2 L620.0,836.0 L621.6,834.8 L623.2,833.6 L624.8,832.4 L626.4,831.2 L628.0,830.0 L629.5,828.8 L631.1,827.5 L632.6,826.2 L634.1,824.9 L635.6,823.6 L637.0,822.2 L638.4,820.9 L639.8,819.4 L641.2,818.0 L642.5,816.5 L643.8,815.0 L645.1,813.5 L646.4,812.0 L647.7,810.5 L649.0,808.9 L650.3,807.4 L651.6,805.9 L652.9,804.4 L654.2,802.9 L655.6,801.4 L656.9,799.9 L658.2,798.4 L659.5,796.9 L660.9,795.4 L662.2,794.0 L663.6,792.5 L664.9,791.0 L666.2,789.5 L667.6,788.1 L669.0,786.6 L670.4,785.2 L671.7,783.7 L673.1,782.2 L674.4,780.7 L675.8,779.3 L677.1,777.8 L678.5,776.3 L679.8,774.9 L681.2,773.4 L682.5,771.9 L683.9,770.5 L685.3,769.0 L686.6,767.5 L688.0,766.1 L689.3,764.6 L690.7,763.1 L692.0,761.7 L693.4,760.2 L694.8,758.8 L696.1,757.3 L697.5,755.9 L698.9,754.4 L700.3,753.0 L701.7,751.6 L703.1,750.1 L704.5,748.7 L705.9,747.4 L707.3,746.0 L708.8,744.6 L710.3,743.3 L711.7,741.9 L713.2,740.6 L714.7,739.3 L716.1,737.9 L717.6,736.6 L719.2,735.3 L720.7,734.1 L722.3,732.9 L723.9,731.7 L725.5,730.5 L727.0,729.3 L728.6,728.1 L730.2,726.9 L731.8,725.7 L733.4,724.5 L735.0,723.3 L736.6,722.1 L738.2,720.9 L739.8,719.7 L741.4,718.5 L743.0,717.3 L744.5,716.1 L746.1,714.8 L747.7,713.6 L749.3,712.4 L750.9,711.2 L752.4,710.0 L754.0,708.8 L755.6,707.6 L757.2,706.4 L758.8,705.3 L760.4,704.1 L762.1,703.0 L763.7,701.9 L765.4,700.8 L767.0,699.7 L768.7,698.6 L770.4,697.6 L772.0,696.5 L773.7,695.5 L775.4,694.4 L777.1,693.4 L778.8,692.4 L780.5,691.4 L782.2,690.4 L783.9,689.3 L785.6,688.3 L787.2,687.1 L788.8,686.0 L790.4,684.9 L792.0,683.8 L793.6,682.6 L795.2,681.4 L796.7,680.2 L798.3,678.9 L799.8,677.6 L801.1,676.1 L802.6,674.8 L804.0,673.5 L805.5,672.1 L806.9,670.7 L808.3,669.4 L809.7,667.9 L811.1,666.5 L812.4,665.1 L813.8,663.6 L815.1,662.1 L816.4,660.5 L817.7,659.0 L819.0,657.5 L820.3,656.0 L821.6,654.5 L822.9,653.0 L824.1,651.4 L825.4,649.9 L826.6,648.3 L827.9,646.8 L829.1,645.2 L830.4,643.6 L831.6,642.1 L832.8,640.5 L834.0,638.9 L835.2,637.3 L836.4,635.7 L837.6,634.1 L838.8,632.5 L840.0,630.9 L841.1,629.3 L842.3,627.6 L843.5,626.0 L844.6,624.4 L845.8,622.7 L846.9,621.1 L848.1,619.5 L849.2,617.8 L850.3,616.2 L851.5,614.5 L852.6,612.9 L853.7,611.2 L854.8,609.6 L855.9,607.9 L857.0,606.2 L858.2,604.6 L859.3,602.9 L860.3,601.2 L861.4,599.6 L862.5,597.9 L863.6,596.2 L864.7,594.5 L865.8,592.9 L866.8,591.2 L867.9,589.5 L869.0,587.8 L870.1,586.1 L871.2,584.4 L872.2,582.8 L873.3,581.1 L874.4,579.4 L875.5,577.8 L876.7,576.1 L877.7,574.4 L878.9,572.8 L880.0,571.1 L881.1,569.5 L882.2,567.8 L883.3,566.2 L884.5,564.5 L885.6,562.9 L886.7,561.2 L887.8,559.5 L889.0,557.9 L890.1,556.2 L891.2,554.6 L892.4,553.0 L893.5,551.3 L894.7,549.7 L895.9,548.1 L897.0,546.5 L898.2,544.8 L899.4,543.2 L900.5,541.6 L901.8,540.0 L902.9,538.4 L904.1,536.8 L905.3,535.2 L906.5,533.6 L907.7,532.0 L908.9,530.4 L910.2,528.8 L911.4,527.3 L912.6,525.7 L913.9,524.1 L915.1,522.6 L916.4,521.1 L917.7,519.5 L919.0,518.0 L920.2,516.4 L921.5,514.9 L922.8,513.4 L924.1,511.9 L925.4,510.3 L926.7,508.8 L928.0,507.3 L929.3,505.8 L930.7,504.3 L932.0,502.8 L933.3,501.3 L934.6,499.8 L935.9,498.3 L937.3,496.8 L938.6,495.3 L939.9,493.8 L941.3,492.3 L942.6,490.8 L943.9,489.3 L945.2,487.8 L946.5,486.3 L947.9,484.8 L949.2,483.3 L950.5,481.9 L951.8,480.4 L953.1,478.8 L954.4,477.3 L955.7,475.8 L957.0,474.3 L958.3,472.7 L959.6,471.2 L960.8,469.6 L962.2,468.2 L963.4,466.6 L964.7,465.1 L965.9,463.5 L967.1,461.9 L968.4,460.3 L969.6,458.7 L970.8,457.2 L972.0,455.6 L973.2,454.0 L974.4,452.4 L975.6,450.7 L976.7,449.1 L977.9,447.5 L979.1,445.9 L980.2,444.3 L981.4,442.6 L982.5,441.0 L983.7,439.4 L984.8,437.7 L986.0,436.1 L987.1,434.5 L988.3,432.9 L989.5,431.2 L990.6,429.6 L991.8,428.0 L993.0,426.4 L994.1,424.8 L995.3,423.1 L996.5,421.5 L997.7,419.9 L998.9,418.3 L1000.1,416.7 L1001.3,415.1 L1002.5,413.5 L1003.7,411.9 L1004.9,410.3 L1006.1,408.8 L1007.3,407.2 L1008.5,405.6 L1009.7,404.0 L1010.9,402.4 L1012.1,400.8 L1013.3,399.2 L1014.5,397.6 L1015.8,396.0 L1017.0,394.4 L1018.3,392.9 L1019.6,391.4 L1020.9,389.9 L1022.3,388.5 L1023.7,387.1 L1025.2,385.8 L1026.7,384.6 L1028.3,383.5 L1030.0,382.5 L1031.8,381.8 L1033.7,381.1 L1035.6,380.5 L1037.6,380.2 L1039.5,380.0 L1041.5,380.1 L1043.5,380.3 L1045.3,381.0 L1047.1,381.9 L1048.8,382.8 L1050.5,383.8 L1052.1,385.0 L1053.7,386.2 L1055.1,387.5 L1056.5,388.9 L1057.9,390.4 L1059.2,391.9 L1060.5,393.4 L1061.7,395.0 L1062.9,396.6 L1064.0,398.2 L1065.0,399.9 L1066.1,401.6 L1067.0,403.3 L1068.0,405.1 L1068.9,406.9 L1069.8,408.6 L1070.6,410.4 L1071.5,412.2 L1072.3,414.1 L1073.1,415.9 L1074.0,417.7 L1074.8,419.5 L1075.6,421.3 L1076.4,423.2 L1077.2,425.0 L1078.0,426.8 L1078.8,428.7 L1079.6,430.5 L1080.4,432.3 L1081.1,434.2 L1081.9,436.0 L1082.7,437.9 L1083.4,439.7 L1084.2,441.6 L1084.9,443.4 L1085.6,445.3 L1086.1,447.2 L1086.8,449.1 L1087.4,451.0 L1088.1,452.9 L1088.7,454.8 L1089.4,456.7 L1090.0,458.5 L1090.6,460.5 L1091.2,462.4 L1091.8,464.3 L1092.4,466.2 L1093.1,468.1 L1093.7,470.0 L1094.3,471.9 L1094.9,473.8 L1095.5,475.7 L1096.1,477.6 L1096.7,479.5 L1097.3,481.4 L1097.8,483.3 L1098.4,485.2 L1099.0,487.2 L1099.6,489.1 L1100.1,491.0 L1100.7,492.9 L1101.3,494.8 L1101.8,496.7 L1102.4,498.7 L1102.9,500.6 L1103.5,502.5 L1104.0,504.4 L1104.6,506.3 L1105.1,508.3 L1105.7,510.2 L1106.2,512.1 L1106.7,514.0 L1107.3,516.0 L1107.8,517.9 L1108.4,519.8 L1108.9,521.8 L1109.4,523.7 L1110.0,525.6 L1110.5,527.5 L1111.0,529.5 L1111.6,531.4 L1112.1,533.3 L1112.6,535.3 L1113.1,537.2 L1113.7,539.1 L1114.2,541.0 L1114.7,543.0 L1115.3,544.9 L1115.8,546.8 L1116.3,548.7 L1116.9,550.7 L1117.4,552.6 L1117.9,554.5 L1118.4,556.5 L1119.0,558.4 L1119.5,560.3 L1120.0,562.2 L1120.6,564.2 L1121.1,566.1 L1121.6,568.0 L1122.2,570.0 L1122.7,571.9 L1123.2,573.8 L1123.8,575.7 L1124.3,577.7 L1124.8,579.6 L1125.4,581.5 L1125.9,583.4 L1126.5,585.4 L1127.0,587.3 L1127.6,589.2 L1128.1,591.1 L1128.7,593.1 L1129.2,595.0 L1129.8,596.9 L1130.3,598.8 L1130.9,600.7 L1131.4,602.7 L1132.0,604.6 L1132.6,606.5 L1133.2,608.4 L1133.7,610.3 L1134.3,612.2 L1134.9,614.2 L1135.5,616.1 L1136.1,618.0 L1136.7,619.9 L1137.3,621.8 L1137.9,623.7 L1138.5,625.6 L1139.1,627.5 L1139.7,629.4 L1140.4,631.3 L1141.0,633.2 L1141.6,635.1 L1142.3,637.0 L1142.9,638.9 L1143.6,640.8 L1144.2,642.7 L1144.9,644.6 L1145.5,646.4 L1146.2,648.3 L1146.8,650.2 L1147.5,652.1 L1148.2,654.0 L1148.9,655.9 L1149.6,657.7 L1150.2,659.6 L1150.9,661.5 L1151.6,663.3 L1152.4,665.2 L1153.1,667.1 L1153.8,668.9 L1154.5,670.8 L1155.3,672.6 L1156.0,674.5 L1156.8,676.3 L1157.6,678.2 L1158.4,680.0 L1159.2,681.9 L1160.0,683.7 L1160.8,685.5 L1161.6,687.3 L1162.4,689.1 L1163.2,691.0 L1164.1,692.8 L1164.8,694.6 L1165.7,696.4 L1166.6,698.2 L1167.5,700.0 L1168.4,701.8 L1169.3,703.5 L1170.2,705.3 L1171.1,707.1 L1172.1,708.9 L1173.0,710.6 L1173.9,712.4 L1174.9,714.1 L1175.8,715.9 L1176.8,717.6 L1177.7,719.4 L1178.7,721.1 L1179.7,722.8 L1180.7,724.6 L1181.6,726.3 L1182.6,728.1 L1183.6,729.8 L1184.6,731.5 L1185.5,733.3 L1186.5,735.0 L1187.5,736.7 L1188.5,738.5 L1189.5,740.2 L1190.5,741.9 L1191.6,743.6 L1192.6,745.3 L1193.7,747.0 L1194.8,748.6 L1195.9,750.3 L1197.0,751.9 L1198.1,753.6 L1199.2,755.2 L1200.4,756.9 L1201.6,758.5 L1202.8,760.0 L1204.0,761.6 L1205.2,763.2 L1206.4,764.8 L1207.7,766.3 L1208.9,767.9 L1210.2,769.4 L1211.4,771.0 L1212.7,772.5 L1214.0,774.0 L1215.2,775.6 L1216.5,777.1 L1217.7,778.7 L1218.9,780.2 L1220.2,781.8 L1221.4,783.4 L1222.6,784.9 L1223.9,786.5 L1225.1,788.1 L1226.3,789.7 L1227.5,791.2 L1228.8,792.8 L1230.0,794.4 L1231.2,795.9 L1232.5,797.5 L1233.7,799.1 L1234.9,800.7 L1236.1,802.3 L1237.3,803.9 L1238.5,805.5 L1239.7,807.1 L1240.8,808.7 L1242.0,810.3 L1243.2,811.9 L1244.3,813.6 L1245.4,815.2 L1246.5,816.9 L1247.6,818.5 L1248.7,820.2 L1249.7,821.9 L1250.7,823.6 L1251.7,825.3 L1252.7,827.1 L1253.6,828.9 L1254.5,830.6 L1255.3,832.4 L1256.2,834.2 L1257.0,836.1 L1257.7,837.9 L1258.5,839.8 L1259.2,841.6 L1259.9,843.5 L1260.7,845.4 L1261.4,847.2 L1262.1,849.1 L1262.8,851.0 L1263.4,852.9 L1264.0,854.7 L1264.6,856.7 L1265.1,858.6 L1265.6,860.5 L1266.0,862.5 L1266.4,864.4 L1266.8,866.4 L1267.2,868.4 L1267.5,870.3 L1267.8,872.3 L1268.1,874.3 L1268.3,876.3 L1268.6,878.3 L1268.8,880.2 L1269.1,882.2 L1269.2,883.0" stroke="#0000ff"/>
<path d="M370.5,882.5 L372.5,882.7 L374.5,882.9 L376.5,883.1 L378.5,883.3 L380.4,883.5 L382.4,883.7 L384.4,883.9 L386.4,884.0 L388.4,884.0 L390.4,884.1 L392.4,884.1 L394.4,884.1 L396.4,884.1 L398.4,884.2 L400.4,884.2 L402.4,884.2 L404.4,884.2 L406.4,884.2 L408.4,884.2 L410.4,884.2 L412.4,884.2 L414.4,884.2 L416.4,884.2 L418.4,884.2 L420.4,884.2 L422.4,884.2 L424.4,884.2 L426.4,884.3 L428.4,884.3 L430.4,884.3 L432.4,884.3 L434.4,884.3 L436.4,884.3 L438.4,884.3 L440.4,884.3 L442.4,884.3 L444.4,884.3 L446.4,884.3 L448.4,884.3 L450.4,884.3 L452.4,884.3 L454.4,884.3 L456.4,884.3 L458.4,884.3 L460.4,884.3 L462.4,884.3 L464.4,884.3 L466.4,884.3 L468.4,884.3 L470.4,884.3 L472.4,884.3 L474.4,884.3 L476.4,884.3 L478.4,884.3 L480.4,884.3 L482.4,884.3 L484.4,884.3 L486.4,884.3 L488.4,884.3 L490.4,884.3 L492.4,884.3 L494.4,884.3 L496.4,884.3 L498.4,884.3 L500.4,884.3 L502.4,884.3 L504.4,884.3 L506.4,884.3 L508.4,884.3 L510.4,884.3 L512.4,884.4 L514.4,884.4 L516.4,884.4 L518.4,884.4 L520.4,884.4 L522.4,884.4 L524.4,884.4 L526.4,884.4 L528.4,884.4 L530.4,884.4 L532.4,884.4 L534.4,884.4 L536.4,884.4 L538.4,884.4 L540.4,884.3 L542.4,884.3 L544.4,884.3 L546.4,884.3 L548.4,884.2 L550.4,884.2 L552.4,884.1 L554.4,884.0 L556.4,883.9 L558.3,883.8 L560.3,883.7 L562.3,883.6 L564.3,883.4 L566.3,883.3 L568.2,883.1 L570.2,882.8 L572.2,882.6 L574.1,882.3 L576.1,882.1 L578.2,882.6 L580.1,882.3 L582.1,881.9 L584.0,881.5 L585.9,881.0 L587.9,880.5 L589.8,880.0 L591.7,879.4 L593.6,878.9 L595.5,878.4 L597.5,877.8 L599.4,877.3 L601.3,876.7 L603.2,876.2 L605.1,875.6 L607.0,875.1 L609.0,874.5 L610.9,873.9 L612.8,873.4 L614.7,872.8 L616.6,872.3 L618.6,871.7 L620.5,871.2 L622.3,870.5 L624.2,869.9 L626.1,869.3 L628.0,868.6 L629.9,868.0 L631.7,867.3 L633.6,866.6 L635.6,866.1 L637.4,865.4 L639.2,864.6 L641.0,863.8 L642.8,862.9 L644.6,862.0 L646.3,861.1 L648.0,860.2 L649.8,859.2 L651.4,858.1 L653.1,857.0 L654.7,855.9 L656.3,854.8 L657.9,853.6 L659.2,852.1 L660.8,850.8 L662.3,849.6 L663.7,848.2 L665.2,846.9 L666.6,845.5 L668.0,844.1 L669.4,842.7 L670.4,840.9 L671.8,839.5 L673.1,838.0 L674.4,836.5 L675.7,835.0 L677.0,833.5 L678.3,832.0 L679.5,830.5 L680.8,828.9 L682.0,827.4 L683.3,825.8 L684.5,824.2 L685.7,822.6 L686.9,821.1 L688.1,819.5 L689.4,817.9 L690.6,816.3 L691.8,814.7 L693.0,813.2 L694.3,811.6 L695.5,810.0 L696.7,808.4 L698.0,806.9 L699.2,805.3 L700.4,803.7 L701.7,802.2 L702.9,800.6 L704.2,799.1 L705.5,797.5 L706.7,796.0 L708.0,794.5 L709.3,792.9 L710.6,791.4 L711.9,789.9 L713.2,788.4 L714.5,786.9 L715.9,785.4 L717.2,783.9 L718.5,782.5 L719.9,781.0 L721.3,779.6 L722.6,778.1 L724.0,776.7 L725.4,775.3 L726.8,773.9 L728.2,772.5 L729.7,771.1 L731.0,769.6 L732.4,768.2 L733.9,766.8 L735.4,765.5 L736.8,764.2 L738.3,762.8 L739.8,761.5 L741.3,760.2 L742.8,759.0 L744.4,757.7 L745.8,756.3 L747.3,755.1 L748.9,753.9 L750.5,752.7 L752.1,751.5 L753.7,750.4 L755.4,749.3 L757.0,748.2 L758.6,746.9 L760.3,745.8 L762.0,744.8 L763.7,743.8 L765.4,742.8 L767.2,741.8 L768.9,740.9 L770.6,739.9 L772.4,739.0 L774.2,738.1 L776.0,737.2 L777.7,736.3 L779.5,735.4 L781.3,734.6 L783.1,733.7 L784.9,732.8 L786.7,732.0 L788.5,731.1 L790.3,730.2 L792.1,729.3 L793.9,728.4 L795.7,727.5 L797.5,726.6 L799.3,725.7 L801.0,724.8 L802.8,723.9 L804.6,722.9 L806.3,722.0 L808.1,721.0 L809.8,720.0 L811.6,719.0 L813.3,718.0 L815.0,717.0 L816.7,716.0 L818.4,714.9 L820.1,713.8 L821.7,712.7 L823.4,711.6 L825.0,710.4 L826.6,709.3 L828.1,708.0 L829.6,706.7 L831.1,705.5 L832.6,704.1 L834.1,702.8 L835.5,701.4 L836.9,700.0 L838.3,698.6 L839.6,697.1 L840.9,695.6 L842.2,694.1 L843.5,692.6 L844.8,691.0 L846.1,689.5 L847.4,688.0 L848.7,686.5 L850.0,684.9 L851.2,683.4 L852.5,681.8 L853.8,680.3 L855.0,678.8 L856.3,677.2 L857.6,675.7 L858.9,674.1 L860.1,672.6 L861.4,671.0 L862.6,669.5 L863.8,667.9 L865.1,666.4 L866.3,664.8 L867.5,663.2 L868.7,661.6 L869.9,660.0 L871.1,658.4 L872.3,656.8 L873.4,655.2 L874.6,653.5 L875.7,651.9 L876.8,650.2 L877.9,648.6 L879.0,646.9 L880.1,645.2 L881.1,643.5 L882.2,641.8 L883.2,640.1 L884.3,638.4 L885.3,636.7 L886.3,635.0 L887.3,633.2 L888.2,631.5 L889.2,629.8 L890.2,628.0 L891.1,626.3 L892.1,624.5 L893.0,622.7 L894.0,621.0 L894.9,619.2 L895.9,617.4 L896.8,615.7 L897.7,613.9 L898.7,612.2 L899.6,610.4 L900.6,608.6 L901.5,606.9 L902.4,605.1 L903.4,603.3 L904.3,601.6 L905.2,599.8 L906.2,598.0 L907.1,596.2 L908.0,594.5 L908.9,592.7 L909.8,590.9 L910.8,589.1 L911.7,587.4 L912.6,585.6 L913.5,583.8 L914.4,582.0 L915.3,580.2 L916.2,578.4 L917.1,576.7 L918.0,574.9 L918.9,573.1 L919.8,571.3 L920.7,569.5 L921.6,567.7 L922.5,565.9 L923.4,564.2 L924.3,562.4 L925.2,560.6 L926.1,558.8 L927.0,557.0 L927.8,555.2 L928.7,553.4 L929.6,551.6 L930.5,549.8 L931.4,548.0 L932.3,546.2 L933.1,544.4 L934.0,542.6 L934.9,540.8 L935.7,539.0 L936.6,537.2 L937.5,535.4 L938.3,533.6 L939.2,531.8 L940.0,530.0 L940.9,528.2 L941.7,526.4 L942.6,524.6 L943.4,522.7 L944.2,520.9 L945.1,519.1 L945.9,517.3 L946.7,515.5 L947.5,513.6 L948.3,511.8 L949.2,510.0 L950.0,508.2 L950.8,506.3 L951.6,504.5 L952.4,502.7 L953.2,500.8 L954.0,499.0 L954.8,497.2 L955.6,495.3 L956.4,493.5 L957.2,491.7 L958.0,489.8 L958.8,488.0 L959.6,486.2 L960.4,484.3 L961.2,482.5 L962.0,480.7 L962.8,478.9 L963.6,477.0 L964.4,475.2 L965.3,473.4 L966.1,471.6 L966.9,469.8 L967.7,467.9 L968.5,466.1 L969.4,464.3 L970.2,462.5 L971.0,460.6 L971.8,458.8 L972.6,457.0 L973.4,455.2 L974.2,453.3 L975.0,451.5 L975.8,449.7 L976.5,447.8 L977.3,446.0 L978.0,444.1 L978.8,442.3 L979.5,440.4 L980.2,438.6 L980.9,436.7 L981.6,434.8 L982.3,432.9 L983.0,431.1 L983.7,429.2 L984.4,427.3 L985.0,425.4 L985.7,423.5 L986.3,421.7 L987.0,419.8 L987.6,417.9 L988.3,416.0 L988.9,414.1 L989.5,412.2 L990.2,410.3 L990.8,408.4 L991.4,406.5 L992.0,404.6 L992.7,402.7 L993.3,400.8 L993.9,398.9 L994.6,397.0 L995.2,395.1 L995.8,393.2 L996.5,391.3 L997.1,389.4 L997.8,387.5 L998.4,385.6 L999.1,383.8 L999.8,381.9 L1000.4,380.0 L1001.1,378.1 L1001.7,376.2 L1002.4,374.3 L1003.1,372.5 L1003.8,370.6 L1004.5,368.7 L1005.2,366.8 L1005.9,365.0 L1006.6,363.1 L1007.3,361.2 L1008.0,359.4 L1008.7,357.5 L1009.4,355.6 L1010.2,353.8 L1010.9,351.9 L1011.6,350.0 L1012.3,348.2 L1013.1,346.3 L1013.8,344.4 L1014.5,342.6 L1015.3,340.7 L1016.0,338.9 L1016.8,337.0 L1017.6,335.2 L1018.3,333.3 L1019.1,331.5 L1019.9,329.7 L1020.7,327.8 L1021.5,326.0 L1022.3,324.2 L1023.1,322.3 L1023.9,320.5 L1024.8,318.7 L1025.6,316.9 L1026.5,315.1 L1027.3,313.3 L1028.2,311.5 L1029.1,309.7 L1030.0,307.9 L1030.9,306.1 L1031.8,304.3 L1032.7,302.6 L1033.7,300.8 L1034.6,299.1 L1035.6,297.3 L1036.7,295.6 L1037.7,293.9 L1038.8,292.3 L1039.9,290.6 L1041.1,289.0 L1042.4,287.6 L1043.8,286.2 L1045.3,284.9 L1046.9,283.7 L1048.5,282.6 L1050.3,281.7 L1052.1,281.0 L1053.9,280.7 L1055.7,281.1 L1057.5,281.9 L1059.2,282.8 L1061.0,283.8 L1062.6,284.9 L1064.1,286.2 L1065.5,287.6 L1066.8,289.0 L1068.1,290.6 L1069.3,292.1 L1070.4,293.8 L1071.4,295.5 L1072.4,297.2 L1073.4,299.0 L1074.3,300.7 L1075.2,302.5 L1076.1,304.3 L1077.0,306.1 L1077.9,307.8 L1078.7,309.7 L1079.6,311.5 L1080.4,313.3 L1081.2,315.1 L1082.0,316.9 L1082.8,318.8 L1083.5,320.6 L1084.3,322.5 L1085.0,324.3 L1085.6,326.2 L1086.3,328.1 L1086.9,330.0 L1087.5,331.9 L1088.1,333.8 L1088.6,335.7 L1089.2,337.6 L1089.7,339.6 L1090.2,341.5 L1090.7,343.4 L1091.2,345.3 L1091.7,347.3 L1092.2,349.2 L1092.7,351.1 L1093.2,353.1 L1093.7,355.0 L1094.2,357.0 L1094.7,358.9 L1095.2,360.8 L1095.7,362.8 L1096.2,364.7 L1096.6,366.6 L1097.1,368.6 L1097.6,370.5 L1098.1,372.5 L1098.6,374.4 L1099.1,376.3 L1099.6,378.3 L1100.1,380.2 L1100.6,382.1 L1101.1,384.1 L1101.6,386.0 L1102.2,387.9 L1102.7,389.9 L1103.2,391.8 L1103.7,393.7 L1104.2,395.7 L1104.7,397.6 L1105.3,399.5 L1105.8,401.5 L1106.3,403.4 L1106.8,405.3 L1107.3,407.2 L1107.9,409.2 L1108.4,411.1 L1108.9,413.0 L1109.4,415.0 L1110.0,416.9 L1110.5,418.8 L1111.0,420.8 L1111.5,422.7 L1112.1,424.6 L1112.6,426.5 L1113.1,428.5 L1113.6,430.4 L1114.2,432.3 L1114.7,434.3 L1115.2,436.2 L1115.8,438.1 L1116.3,440.0 L1116.8,442.0 L1117.4,443.9 L1117.9,445.8 L1118.5,447.7 L1119.0,449.6 L1119.6,451.5 L1120.1,453.5 L1120.7,455.4 L1121.2,457.3 L1121.8,459.2 L1122.3,461.1 L1122.9,463.1 L1123.4,465.0 L1123.9,466.9 L1124.5,468.8 L1125.0,470.8 L1125.5,472.7 L1126.0,474.6 L1126.5,476.5 L1127.0,478.5 L1127.5,480.4 L1128.0,482.3 L1128.5,484.3 L1129.0,486.2 L1129.5,488.2 L1129.9,490.1 L1130.4,492.0 L1130.9,494.0 L1131.3,495.9 L1131.8,497.9 L1132.3,499.8 L1132.7,501.8 L1133.2,503.7 L1133.7,505.6 L1134.1,507.6 L1134.6,509.5 L1135.1,511.5 L1135.5,513.4 L1136.0,515.4 L1136.5,517.3 L1136.9,519.3 L1137.4,521.2 L1137.9,523.1 L1138.3,525.1 L1138.8,527.0 L1139.3,529.0 L1139.8,530.9 L1140.3,532.9 L1140.8,534.8 L1141.3,536.7 L1141.8,538.7 L1142.3,540.6 L1142.8,542.5 L1143.3,544.5 L1143.8,546.4 L1144.3,548.3 L1144.8,550.3 L1145.3,552.2 L1145.8,554.1 L1146.3,556.1 L1146.9,558.0 L1147.4,559.9 L1147.9,561.9 L1148.4,563.8 L1149.0,565.7 L1149.5,567.6 L1150.0,569.6 L1150.5,571.5 L1151.1,573.4 L1151.6,575.4 L1152.2,577.3 L1152.7,579.2 L1153.3,581.1 L1153.8,583.0 L1154.4,585.0 L1154.9,586.9 L1155.5,588.8 L1156.1,590.7 L1156.6,592.6 L1157.2,594.6 L1157.8,596.5 L1158.4,598.4 L1158.9,600.3 L1159.5,602.2 L1160.1,604.1 L1160.7,606.0 L1161.3,607.9 L1161.9,609.8 L1162.5,611.7 L1163.1,613.6 L1163.8,615.5 L1164.4,617.4 L1165.0,619.3 L1165.7,621.2 L1166.3,623.1 L1167.0,625.0 L1167.6,626.9 L1168.3,628.8 L1169.0,630.7 L1169.7,632.5 L1170.4,634.4 L1171.1,636.3 L1171.8,638.2 L1172.4,640.0 L1173.1,641.9 L1173.8,643.8 L1174.5,645.7 L1175.3,647.5 L1176.0,649.4 L1176.7,651.2 L1177.4,653.1 L1178.2,655.0 L1178.9,656.8 L1179.7,658.7 L1180.4,660.5 L1181.2,662.4 L1181.9,664.2 L1182.7,666.1 L1183.5,667.9 L1184.3,669.7 L1185.1,671.6 L1185.9,673.4 L1186.7,675.2 L1187.5,677.1 L1188.3,678.9 L1189.1,680.7 L1189.9,682.5 L1190.7,684.4 L1191.5,686.2 L1192.3,688.0 L1193.1,689.9 L1194.0,691.7 L1194.8,693.5 L1195.6,695.3 L1196.4,697.2 L1197.2,699.0 L1198.0,700.8 L1198.8,702.6 L1199.6,704.5 L1200.4,706.3 L1201.2,708.1 L1202.0,710.0 L1202.8,711.8 L1203.6,713.6 L1204.4,715.5 L1205.2,717.3 L1206.0,719.1 L1206.9,720.9 L1207.7,722.7 L1208.5,724.5 L1209.4,726.4 L1210.3,728.2 L1211.1,729.9 L1212.0,731.7 L1212.9,733.5 L1213.8,735.3 L1214.7,737.1 L1215.6,738.9 L1216.6,740.6 L1217.5,742.4 L1218.5,744.2 L1219.4,745.9 L1220.4,747.7 L1221.3,749.4 L1222.3,751.2 L1223.2,752.9 L1224.2,754.7 L1225.2,756.4 L1226.1,758.2 L1227.1,759.9 L1228.1,761.7 L1229.1,763.4 L1230.0,765.2 L1231.0,766.9 L1232.0,768.7 L1233.0,770.4 L1233.9,772.1 L1234.9,773.9 L1235.9,775.6 L1236.9,777.4 L1237.8,779.1 L1238.8,780.9 L1239.7,782.6 L1240.8,784.4 L1241.7,786.1 L1242.7,787.9 L1243.6,789.6 L1244.5,791.4 L1245.5,793.2 L1246.4,795.0 L1247.3,796.7 L1248.2,798.5 L1249.1,800.3 L1249.9,802.1 L1250.8,803.9 L1251.6,805.7 L1252.4,807.5 L1253.3,809.4 L1254.0,811.2 L1254.8,813.0 L1255.6,814.9 L1256.3,816.7 L1257.0,818.6 L1257.7,820.5 L1258.4,822.3 L1259.1,824.2 L1259.7,826.1 L1260.3,828.0 L1260.9,829.9 L1261.5,831.8 L1262.0,833.7 L1262.5,835.7 L1263.0,837.6 L1263.5,839.6 L1263.9,841.5 L1264.3,843.5 L1264.6,845.4 L1264.9,847.4 L1265.2,849.4 L1265.5,851.4 L1265.7,853.3 L1266.0,855.3 L1266.2,857.3 L1266.5,859.3 L1266.7,861.3 L1266.9,863.3 L1267.2,865.3 L1267.4,867.2 L1267.6,869.2 L1267.8,871.2 L1268.1,873.2 L1268.3,875.2 L1268.5,877.2 L1268.8,879.2 L1269.0,881.1 L1269.2,883.0" stroke="#ff00ff"/>
<path d="M377.0,882.3 L379.0,882.3 L381.0,882.3 L383.0,882.3 L385.0,882.3 L387.0,882.3 L389.0,882.3 L391.0,882.3 L393.0,882.3 L395.0,882.3 L397.0,882.3 L399.0,882.3 L401.0,882.3 L403.0,882.3 L405.0,882.3 L407.0,882.3 L409.0,882.3 L411.0,882.3 L413.0,882.3 L415.0,882.3 L417.0,882.3 L419.0,882.3 L421.0,882.3 L423.0,882.3 L425.0,882.3 L427.0,882.3 L429.0,882.3 L431.0,882.3 L433.0,882.3 L435.0,882.3 L437.0,882.3 L439.0,882.3 L441.0,882.4 L443.0,882.4 L445.0,882.4 L447.0,882.4 L449.0,882.4 L451.0,882.4 L453.0,882.4 L455.0,882.4 L457.0,882.4 L459.0,882.4 L461.0,882.4 L463.0,882.4 L465.0,882.4 L467.0,882.4 L469.0,882.4 L471.0,882.4 L473.0,882.4 L475.0,882.4 L477.0,882.5 L479.0,882.5 L481.0,882.5 L483.0,882.5 L485.0,882.5 L487.0,882.5 L489.0,882.5 L491.0,882.5 L493.0,882.5 L495.0,882.6 L497.0,882.6 L499.0,882.6 L501.0,882.6 L503.0,882.6 L505.0,882.6 L507.0,882.7 L509.0,882.7 L511.0,882.7 L513.0,882.7 L515.0,882.7 L517.0,882.8 L519.0,882.8 L521.0,882.8 L523.0,882.8 L525.0,882.8 L527.0,882.8 L529.0,882.9 L531.0,882.9 L533.0,882.9 L535.0,882.9 L537.0,882.9 L539.0,882.9 L541.0,882.8 L543.0,882.8 L545.0,882.8 L547.0,882.8 L549.0,882.7 L551.0,882.7 L553.0,882.6 L555.0,882.6 L556.9,882.5 L558.9,882.4 L560.9,882.3 L562.9,882.2 L564.9,882.1 L566.9,882.0 L568.9,881.8 L570.9,881.6 L572.9,881.5 L574.8,881.3 L576.8,881.1 L578.8,880.9 L580.8,880.6 L582.8,880.4 L584.7,880.2 L586.7,879.9 L588.7,879.6 L590.7,879.5 L592.6,879.2 L594.6,878.9 L596.6,878.6 L598.6,878.3 L600.5,878.0 L602.5,877.7 L604.5,877.4 L606.5,877.1 L608.4,876.8 L610.4,876.5 L612.4,876.2 L614.3,875.8 L616.3,875.4 L618.3,875.1 L620.2,874.7 L622.2,874.3 L624.1,873.8 L626.1,873.4 L628.0,872.9 L629.9,872.4 L631.8,871.8 L633.7,871.3 L635.6,870.7 L637.5,870.1 L639.4,869.5 L641.3,868.9 L643.2,868.2 L645.1,867.5 L646.9,866.8 L648.8,866.1 L650.7,865.4 L652.5,864.7 L654.4,863.9 L656.2,863.2 L658.1,862.4 L659.9,861.6 L661.7,860.8 L663.5,859.9 L665.3,859.1 L667.1,858.2 L668.9,857.3 L670.6,856.4 L672.4,855.4 L674.2,854.5 L675.9,853.5 L677.6,852.5 L679.3,851.5 L681.0,850.5 L682.7,849.5 L684.4,848.4 L686.0,847.2 L687.7,846.1 L689.3,845.0 L690.9,843.8 L692.5,842.7 L694.1,841.5 L695.7,840.3 L697.3,839.1 L698.9,837.9 L700.4,836.6 L701.9,835.3 L703.5,834.1 L705.0,832.8 L706.5,831.5 L708.1,830.2 L709.6,829.0 L711.1,827.7 L712.6,826.4 L714.1,825.1 L715.7,823.8 L717.2,822.5 L718.7,821.2 L720.2,820.0 L721.8,818.7 L723.3,817.4 L724.9,816.2 L726.4,814.9 L728.0,813.7 L729.6,812.4 L731.1,811.2 L732.7,810.0 L734.3,808.8 L735.9,807.6 L737.5,806.4 L739.1,805.2 L740.8,804.1 L742.4,802.9 L744.0,801.7 L745.6,800.5 L747.2,799.4 L748.9,798.2 L750.5,797.1 L752.1,795.9 L753.8,794.7 L755.4,793.6 L757.0,792.4 L758.6,791.3 L760.3,790.1 L761.9,788.9 L763.5,787.8 L765.2,786.6 L766.8,785.4 L768.4,784.3 L770.0,783.1 L771.6,781.9 L773.2,780.7 L774.8,779.5 L776.4,778.3 L778.0,777.1 L779.6,775.9 L781.2,774.7 L782.8,773.5 L784.4,772.2 L786.0,771.0 L787.5,769.8 L789.1,768.5 L790.6,767.3 L792.2,766.0 L793.7,764.7 L795.3,763.5 L796.8,762.2 L798.3,760.9 L799.9,759.6 L801.4,758.3 L802.9,757.0 L804.4,755.7 L805.9,754.4 L807.4,753.1 L808.9,751.8 L810.4,750.4 L811.8,749.0 L813.3,747.7 L814.7,746.3 L816.2,744.9 L817.6,743.5 L819.0,742.1 L820.4,740.7 L821.8,739.3 L823.2,737.9 L824.6,736.4 L826.0,734.9 L827.3,733.5 L828.7,732.0 L830.0,730.5 L831.4,729.1 L832.6,727.5 L833.9,726.0 L835.2,724.5 L836.5,722.9 L837.7,721.4 L839.0,719.8 L840.2,718.2 L841.4,716.7 L842.6,715.1 L843.9,713.5 L845.1,711.9 L846.3,710.4 L847.6,708.8 L848.8,707.2 L850.0,705.7 L851.3,704.1 L852.5,702.5 L853.7,701.0 L854.9,699.4 L856.1,697.8 L857.3,696.2 L858.5,694.6 L859.7,693.0 L860.9,691.4 L862.0,689.8 L863.1,688.2 L864.3,686.5 L865.4,684.9 L866.5,683.2 L867.5,681.5 L868.6,679.8 L869.6,678.1 L870.7,676.4 L871.5,674.6 L872.5,672.9 L873.5,671.2 L874.5,669.4 L875.4,667.7 L876.4,665.9 L877.4,664.2 L878.3,662.4 L879.2,660.7 L880.2,658.9 L881.1,657.1 L882.0,655.4 L882.9,653.6 L883.8,651.8 L884.7,650.0 L885.6,648.2 L886.5,646.4 L887.4,644.7 L888.3,642.9 L889.1,641.1 L890.0,639.2 L890.8,637.4 L891.7,635.6 L892.5,633.8 L893.4,632.0 L894.2,630.2 L895.1,628.4 L895.9,626.6 L896.7,624.8 L897.6,622.9 L898.4,621.1 L899.2,619.3 L900.0,617.5 L900.9,615.7 L901.7,613.8 L902.5,612.0 L903.4,610.2 L904.2,608.4 L905.0,606.6 L905.9,604.8 L906.7,603.0 L907.6,601.1 L908.4,599.3 L909.2,597.5 L910.1,595.7 L911.0,593.9 L911.8,592.1 L912.7,590.3 L913.6,588.5 L914.4,586.7 L915.3,584.9 L916.2,583.1 L917.1,581.3 L918.0,579.5 L918.9,577.7 L919.7,575.9 L920.6,574.2 L921.5,572.4 L922.4,570.6 L923.3,568.8 L924.2,567.0 L925.0,565.2 L925.9,563.4 L926.8,561.6 L927.7,559.8 L928.5,558.0 L929.4,556.2 L930.3,554.4 L931.1,552.6 L932.0,550.8 L932.8,549.0 L933.7,547.2 L934.5,545.4 L935.4,543.5 L936.2,541.7 L937.1,539.9 L937.9,538.1 L938.7,536.3 L939.6,534.5 L940.4,532.7 L941.2,530.8 L942.0,529.0 L942.9,527.2 L943.7,525.4 L944.5,523.5 L945.3,521.7 L946.1,519.9 L946.9,518.1 L947.7,516.2 L948.5,514.4 L949.3,512.5 L950.1,510.7 L950.8,508.9 L951.6,507.0 L952.4,505.2 L953.1,503.3 L953.9,501.5 L954.6,499.6 L955.4,497.8 L956.1,495.9 L956.8,494.0 L957.5,492.2 L958.3,490.3 L959.0,488.4 L959.7,486.6 L960.4,484.7 L961.1,482.8 L961.8,481.0 L962.5,479.1 L963.2,477.2 L963.9,475.3 L964.6,473.5 L965.3,471.6 L966.0,469.7 L966.7,467.8 L967.3,465.9 L968.0,464.1 L968.7,462.2 L969.4,460.3 L970.1,458.4 L970.7,456.5 L971.4,454.7 L972.1,452.8 L972.8,450.9 L973.4,449.0 L974.1,447.1 L974.8,445.3 L975.5,443.4 L976.2,441.5 L976.8,439.6 L977.5,437.7 L978.2,435.8 L978.8,434.0 L979.5,432.1 L980.2,430.2 L980.9,428.3 L981.5,426.4 L982.2,424.5 L982.8,422.6 L983.5,420.8 L984.2,418.9 L984.8,417.0 L985.5,415.1 L986.1,413.2 L986.8,411.3 L987.5,409.4 L988.1,407.5 L988.8,405.6 L989.4,403.8 L990.1,401.9 L990.7,400.0 L991.4,398.1 L992.0,396.2 L992.6,394.3 L993.3,392.4 L993.9,390.5 L994.6,388.6 L995.2,386.7 L995.9,384.8 L996.5,382.9 L997.2,381.1 L997.8,379.2 L998.5,377.3 L999.2,375.4 L999.8,373.5 L1000.5,371.6 L1001.1,369.7 L1001.8,367.9 L1002.4,366.0 L1003.1,364.1 L1003.8,362.2 L1004.5,360.4 L1005.2,358.5 L1005.9,356.6 L1006.6,354.8 L1007.3,352.9 L1008.0,351.1 L1008.7,349.2 L1009.4,347.4 L1010.2,345.5 L1010.9,343.7 L1011.7,341.9 L1012.4,340.0 L1013.2,338.2 L1013.9,336.4 L1014.7,334.6 L1015.5,332.7 L1016.3,330.9 L1017.1,329.1 L1017.9,327.3 L1018.7,325.5 L1019.5,323.7 L1020.3,321.9 L1021.1,320.0 L1021.9,318.2 L1022.7,316.4 L1023.5,314.6 L1024.3,312.7 L1025.1,310.9 L1025.9,309.1 L1026.7,307.3 L1027.5,305.4 L1028.4,303.6 L1029.2,301.8 L1030.0,300.0 L1030.9,298.2 L1031.7,296.4 L1032.6,294.6 L1033.5,292.8 L1034.3,291.0 L1035.2,289.2 L1036.1,287.4 L1037.0,285.6 L1038.0,283.9 L1038.9,282.1 L1039.9,280.4 L1040.9,278.7 L1042.0,277.0 L1043.2,275.4 L1044.4,273.8 L1045.6,272.3 L1046.9,270.8 L1048.3,269.4 L1049.8,268.1 L1051.4,267.0 L1053.2,266.2 L1055.0,265.4 L1056.9,264.7 L1058.7,264.3 L1060.6,264.4 L1062.6,264.8 L1064.4,265.4 L1066.2,266.2 L1067.9,267.3 L1069.4,268.5 L1070.9,269.8 L1072.3,271.2 L1073.5,272.7 L1074.7,274.3 L1075.9,275.9 L1077.0,277.6 L1078.0,279.3 L1079.0,281.0 L1079.9,282.8 L1080.8,284.6 L1081.7,286.4 L1082.5,288.2 L1083.3,290.0 L1084.1,291.8 L1084.9,293.7 L1085.7,295.5 L1086.4,297.4 L1087.1,299.2 L1087.9,301.1 L1088.6,302.9 L1089.3,304.8 L1090.0,306.7 L1090.6,308.6 L1091.3,310.4 L1092.0,312.3 L1092.6,314.2 L1093.3,316.1 L1093.9,318.0 L1094.5,319.9 L1095.2,321.8 L1095.8,323.7 L1096.4,325.6 L1097.0,327.5 L1097.5,329.4 L1098.1,331.4 L1098.7,333.3 L1099.3,335.2 L1099.9,337.1 L1100.5,339.0 L1101.1,340.9 L1101.7,342.8 L1102.3,344.7 L1102.9,346.6 L1103.5,348.5 L1104.1,350.4 L1104.6,352.4 L1105.2,354.3 L1105.7,356.2 L1106.2,358.1 L1106.8,360.0 L1107.3,362.0 L1107.9,363.9 L1108.4,365.8 L1108.9,367.7 L1109.5,369.7 L1110.0,371.6 L1110.5,373.5 L1111.0,375.5 L1111.5,377.4 L1112.0,379.4 L1112.5,381.3 L1112.9,383.2 L1113.4,385.2 L1113.9,387.1 L1114.4,389.0 L1114.9,391.0 L1115.3,392.9 L1115.8,394.9 L1116.3,396.8 L1116.7,398.8 L1117.2,400.7 L1117.7,402.7 L1118.1,404.6 L1118.6,406.6 L1119.0,408.5 L1119.5,410.4 L1119.9,412.4 L1120.4,414.3 L1120.8,416.3 L1121.2,418.3 L1121.7,420.2 L1122.1,422.2 L1122.5,424.1 L1123.0,426.1 L1123.4,428.0 L1123.8,430.0 L1124.3,431.9 L1124.7,433.9 L1125.1,435.8 L1125.5,437.8 L1126.0,439.7 L1126.4,441.7 L1126.9,443.6 L1127.3,445.6 L1127.8,447.5 L1128.2,449.5 L1128.7,451.4 L1129.2,453.3 L1129.6,455.3 L1130.1,457.2 L1130.6,459.2 L1131.0,461.1 L1131.5,463.0 L1132.0,465.0 L1132.5,466.9 L1132.9,468.9 L1133.4,470.8 L1133.9,472.7 L1134.4,474.7 L1134.9,476.6 L1135.4,478.6 L1135.8,480.5 L1136.3,482.4 L1136.8,484.4 L1137.3,486.3 L1137.8,488.3 L1138.3,490.2 L1138.8,492.1 L1139.3,494.1 L1139.8,496.0 L1140.3,497.9 L1140.8,499.9 L1141.3,501.8 L1141.8,503.7 L1142.3,505.7 L1142.8,507.6 L1143.3,509.5 L1143.8,511.5 L1144.3,513.4 L1144.8,515.3 L1145.4,517.3 L1145.9,519.2 L1146.4,521.1 L1146.9,523.1 L1147.4,525.0 L1147.9,526.9 L1148.5,528.9 L1149.0,530.8 L1149.5,532.7 L1150.0,534.7 L1150.5,536.6 L1151.0,538.5 L1151.6,540.5 L1152.1,542.4 L1152.6,544.3 L1153.1,546.3 L1153.6,548.2 L1154.1,550.1 L1154.7,552.1 L1155.2,554.0 L1155.7,555.9 L1156.2,557.8 L1156.7,559.8 L1157.3,561.7 L1157.8,563.6 L1158.3,565.6 L1158.8,567.5 L1159.4,569.4 L1159.9,571.4 L1160.4,573.3 L1161.0,575.2 L1161.5,577.1 L1162.1,579.1 L1162.6,581.0 L1163.2,582.9 L1163.7,584.8 L1164.3,586.7 L1164.9,588.6 L1165.4,590.5 L1166.0,592.5 L1166.6,594.4 L1167.2,596.3 L1167.9,598.2 L1168.4,600.1 L1169.1,602.0 L1169.7,603.9 L1170.4,605.7 L1171.0,607.6 L1171.7,609.5 L1172.4,611.4 L1173.1,613.3 L1173.8,615.1 L1174.5,617.0 L1175.2,618.9 L1175.8,620.7 L1176.6,622.6 L1177.3,624.5 L1178.0,626.3 L1178.7,628.2 L1179.4,630.1 L1180.1,631.9 L1180.8,633.8 L1181.5,635.7 L1182.2,637.6 L1182.9,639.4 L1183.6,641.3 L1184.3,643.2 L1185.0,645.1 L1185.6,647.0 L1186.3,648.8 L1187.0,650.7 L1187.6,652.6 L1188.3,654.5 L1189.0,656.4 L1189.6,658.3 L1190.3,660.2 L1191.0,662.0 L1191.6,663.9 L1192.3,665.8 L1193.0,667.7 L1193.7,669.6 L1194.4,671.4 L1195.1,673.3 L1195.8,675.2 L1196.5,677.0 L1197.2,678.9 L1197.9,680.8 L1198.6,682.6 L1199.4,684.5 L1200.1,686.4 L1200.8,688.2 L1201.6,690.1 L1202.4,691.9 L1203.1,693.8 L1203.9,695.6 L1204.6,697.4 L1205.4,699.3 L1206.2,701.1 L1207.1,702.9 L1207.9,704.8 L1208.7,706.6 L1209.5,708.4 L1210.4,710.2 L1211.2,712.0 L1212.1,713.8 L1212.9,715.6 L1213.8,717.4 L1214.6,719.2 L1215.5,721.0 L1216.4,722.8 L1217.3,724.6 L1218.2,726.4 L1219.1,728.2 L1220.0,730.0 L1220.9,731.8 L1221.8,733.5 L1222.7,735.3 L1223.7,737.1 L1224.6,738.9 L1225.5,740.6 L1226.5,742.4 L1227.4,744.1 L1228.4,745.9 L1229.3,747.7 L1230.3,749.4 L1231.2,751.2 L1232.2,753.0 L1233.1,754.7 L1234.1,756.5 L1235.0,758.2 L1236.0,760.0 L1236.9,761.8 L1237.8,763.5 L1238.8,765.3 L1239.7,767.0 L1240.6,768.8 L1241.6,770.6 L1242.5,772.4 L1243.4,774.1 L1244.3,775.9 L1245.2,777.7 L1246.0,779.5 L1246.9,781.3 L1247.8,783.1 L1248.6,784.9 L1249.5,786.7 L1250.3,788.5 L1251.1,790.3 L1252.0,792.2 L1252.7,794.0 L1253.5,795.8 L1254.3,797.7 L1255.0,799.5 L1255.7,801.4 L1256.4,803.3 L1257.1,805.1 L1257.8,807.0 L1258.4,808.9 L1259.1,810.8 L1259.7,812.7 L1260.2,814.6 L1260.8,816.5 L1261.3,818.4 L1261.9,820.4 L1262.4,822.3 L1262.9,824.2 L1263.3,826.2 L1263.8,828.1 L1264.2,830.1 L1264.6,832.0 L1265.0,834.0 L1265.4,835.9 L1265.8,837.9 L1266.2,839.9 L1266.5,841.8 L1266.9,843.8 L1267.2,845.8 L1267.5,847.7 L1267.9,849.7 L1268.2,851.7 L1268.5,853.7 L1268.8,855.6 L1269.1,857.6 L1269.4,859.6 L1269.7,861.6 L1269.9,863.6 L1270.2,865.5 L1270.4,867.5 L1270.6,869.5 L1270.9,871.5 L1271.1,873.5 L1271.4,875.5 L1271.6,877.5 L1271.8,879.4 L1272.1,881.4 L1272.3,883.4" stroke="#008000"/>
<path d="M377.0,879.5 L379.0,879.5 L381.0,879.5 L383.0,879.5 L385.0,879.6 L387.0,879.6 L389.0,879.6 L391.0,879.6 L393.0,879.6 L395.0,879.6 L397.0,879.6 L399.0,879.7 L401.0,879.7 L403.0,879.7 L405.0,879.7 L407.0,879.7 L409.0,879.7 L411.0,879.7 L413.0,879.7 L415.0,879.8 L417.0,879.8 L419.0,879.8 L421.0,879.8 L423.0,879.8 L425.0,879.8 L427.0,879.8 L429.0,879.8 L431.0,879.8 L433.0,879.8 L435.0,879.8 L437.0,879.8 L439.0,879.8 L441.0,879.8 L443.0,879.8 L445.0,879.8 L447.0,879.8 L449.0,879.8 L451.0,879.8 L453.0,879.8 L455.0,879.8 L457.0,879.8 L459.0,879.8 L461.0,879.8 L463.0,879.8 L465.0,879.8 L467.0,879.8 L469.0,879.8 L471.0,879.8 L473.0,879.8 L475.0,879.8 L477.0,879.8 L479.0,879.8 L481.0,879.8 L483.0,879.8 L485.0,879.8 L487.0,879.8 L489.0,879.8 L491.0,879.8 L493.0,879.8 L495.0,879.8 L497.0,879.8 L499.0,879.8 L501.0,879.9 L503.0,879.9 L505.0,879.9 L507.0,879.9 L509.0,879.9 L511.0,880.0 L513.0,880.0 L515.0,880.0 L517.0,880.1 L519.0,880.1 L521.0,880.1 L523.0,880.2 L525.0,880.2 L527.0,880.3 L529.0,880.4 L531.0,880.4 L533.0,880.5 L535.0,880.6 L537.0,880.7 L539.0,880.7 L540.9,880.8 L542.9,880.9 L544.9,881.0 L546.9,881.0 L548.9,881.1 L550.9,881.2 L552.9,881.2 L554.9,881.3 L556.9,881.3 L558.9,881.4 L560.9,881.4 L562.9,881.5 L564.9,881.5 L566.9,881.6 L568.9,881.6 L570.9,881.6 L572.9,881.7 L574.9,881.7 L576.9,881.7 L578.9,881.7 L580.9,881.8 L582.9,881.8 L584.9,881.8 L586.9,881.8 L588.9,881.8 L590.9,881.9 L592.9,881.9 L594.8,881.9 L596.8,881.8 L598.8,881.8 L600.8,882.0 L602.8,881.9 L604.8,881.9 L606.8,881.8 L608.8,881.8 L610.8,881.7 L612.8,881.6 L614.8,881.5 L616.8,881.4 L618.8,881.2 L620.7,881.0 L622.7,880.8 L624.7,880.6 L626.7,880.3 L628.7,880.1 L630.7,879.8 L632.6,879.5 L634.6,879.2 L636.6,878.9 L638.6,878.6 L640.5,878.3 L642.5,878.0 L644.5,877.6 L646.4,877.3 L648.4,876.9 L650.3,876.5 L652.3,876.1 L654.3,875.7 L656.2,875.3 L658.1,874.8 L660.1,874.3 L662.0,873.9 L663.9,873.4 L665.9,872.8 L667.8,872.3 L669.7,871.7 L671.6,871.1 L673.5,870.5 L675.3,869.8 L677.2,869.1 L679.1,868.5 L680.9,867.7 L682.8,867.0 L684.6,866.1 L686.4,865.3 L688.2,864.5 L690.0,863.7 L691.8,862.8 L693.6,861.9 L695.3,861.0 L697.1,860.0 L698.8,859.1 L700.5,858.0 L702.2,857.0 L703.9,856.0 L705.6,854.9 L707.3,853.8 L708.9,852.8 L710.6,851.7 L712.3,850.6 L713.9,849.4 L715.5,848.3 L717.2,847.1 L718.8,846.0 L720.4,844.8 L722.0,843.6 L723.6,842.5 L725.3,841.3 L726.9,840.1 L728.5,838.9 L730.1,837.7 L731.7,836.5 L733.3,835.3 L734.8,834.1 L736.4,832.8 L738.0,831.6 L739.5,830.4 L741.1,829.1 L742.7,827.9 L744.2,826.6 L745.8,825.4 L747.3,824.1 L748.9,822.8 L750.4,821.5 L751.9,820.2 L753.4,818.9 L755.0,817.6 L756.5,816.3 L758.0,815.0 L759.5,813.7 L760.9,812.3 L762.4,811.0 L763.8,809.6 L765.2,808.1 L766.6,806.7 L768.0,805.3 L769.4,803.9 L770.8,802.5 L772.1,801.0 L773.5,799.5 L774.8,798.0 L776.1,796.6 L777.4,795.1 L778.7,793.6 L780.0,792.1 L781.3,790.6 L782.6,789.1 L783.9,787.6 L785.2,786.1 L786.6,784.6 L787.9,783.0 L789.2,781.6 L790.5,780.1 L791.8,778.6 L793.1,777.1 L794.4,775.6 L795.8,774.1 L797.1,772.6 L798.4,771.2 L799.7,769.7 L801.0,768.1 L802.3,766.6 L803.6,765.1 L804.8,763.5 L806.1,762.0 L807.3,760.4 L808.5,758.8 L809.6,757.2 L810.8,755.6 L812.0,753.9 L813.1,752.3 L814.3,750.7 L815.4,749.0 L816.5,747.4 L817.7,745.7 L818.8,744.1 L819.9,742.4 L821.0,740.7 L822.1,739.1 L823.2,737.4 L824.3,735.7 L825.4,734.0 L826.4,732.4 L827.5,730.7 L828.6,729.0 L829.6,727.3 L830.7,725.6 L831.8,723.9 L832.8,722.2 L833.9,720.5 L834.9,718.8 L836.0,717.1 L837.0,715.4 L838.0,713.7 L839.1,712.0 L840.1,710.3 L841.2,708.6 L842.2,706.8 L843.2,705.1 L844.3,703.4 L845.3,701.7 L846.3,700.0 L847.3,698.3 L848.3,696.5 L849.4,694.8 L850.4,693.1 L851.3,691.3 L852.4,689.6 L853.4,687.9 L854.4,686.2 L855.4,684.4 L856.4,682.7 L857.3,681.0 L858.3,679.2 L859.3,677.5 L860.3,675.7 L861.2,674.0 L862.2,672.2 L863.2,670.5 L864.1,668.7 L865.1,667.0 L866.1,665.2 L867.0,663.4 L867.9,661.7 L868.9,659.9 L869.8,658.1 L870.7,656.4 L871.6,654.6 L872.5,652.8 L873.4,651.0 L874.3,649.2 L875.2,647.4 L876.1,645.7 L877.0,643.9 L877.9,642.1 L878.8,640.3 L879.6,638.5 L880.5,636.7 L881.4,634.9 L882.2,633.1 L883.1,631.3 L884.0,629.5 L884.8,627.7 L885.7,625.9 L886.5,624.1 L887.4,622.3 L888.3,620.4 L889.1,618.6 L890.0,616.8 L890.9,615.0 L891.8,613.2 L892.6,611.4 L893.5,609.6 L894.4,607.9 L895.3,606.1 L896.1,604.3 L897.0,602.5 L897.9,600.7 L898.8,598.9 L899.7,597.1 L900.6,595.3 L901.5,593.5 L902.4,591.7 L903.2,589.9 L904.1,588.1 L905.0,586.4 L905.9,584.6 L906.8,582.8 L907.7,581.0 L908.6,579.2 L909.5,577.4 L910.4,575.6 L911.3,573.9 L912.3,572.1 L913.2,570.3 L914.1,568.5 L915.0,566.7 L915.9,564.9 L916.8,563.2 L917.7,561.4 L918.6,559.6 L919.5,557.8 L920.4,556.0 L921.3,554.3 L922.2,552.5 L923.1,550.7 L924.0,548.9 L924.9,547.1 L925.8,545.3 L926.7,543.5 L927.6,541.7 L928.4,539.9 L929.3,538.1 L930.2,536.3 L931.0,534.5 L931.9,532.7 L932.7,530.9 L933.6,529.1 L934.4,527.3 L935.2,525.5 L936.0,523.6 L936.9,521.8 L937.7,520.0 L938.5,518.2 L939.3,516.3 L940.1,514.5 L940.9,512.7 L941.6,510.8 L942.4,509.0 L943.2,507.1 L944.0,505.3 L944.8,503.5 L945.5,501.6 L946.3,499.8 L947.1,497.9 L947.8,496.1 L948.6,494.2 L949.4,492.4 L950.1,490.5 L950.9,488.7 L951.7,486.8 L952.4,485.0 L953.2,483.1 L954.0,481.3 L954.7,479.4 L955.5,477.6 L956.3,475.8 L957.1,473.9 L957.8,472.1 L958.6,470.2 L959.4,468.4 L960.2,466.6 L961.0,464.7 L961.8,462.9 L962.6,461.0 L963.4,459.2 L964.1,457.4 L964.9,455.5 L965.7,453.7 L966.5,451.9 L967.3,450.0 L968.1,448.2 L968.9,446.4 L969.7,444.5 L970.5,442.7 L971.3,440.8 L972.0,439.0 L972.8,437.2 L973.6,435.3 L974.3,433.5 L975.1,431.6 L975.8,429.8 L976.6,427.9 L977.3,426.1 L978.1,424.2 L978.8,422.3 L979.5,420.5 L980.2,418.6 L980.9,416.7 L981.6,414.9 L982.3,413.0 L982.9,411.1 L983.6,409.2 L984.3,407.3 L985.0,405.5 L985.6,403.6 L986.3,401.7 L986.9,399.8 L987.6,397.9 L988.3,396.0 L988.9,394.1 L989.6,392.3 L990.2,390.4 L990.9,388.5 L991.5,386.6 L992.2,384.7 L992.8,382.8 L993.5,380.9 L994.2,379.0 L994.8,377.1 L995.5,375.3 L996.1,373.4 L996.8,371.5 L997.5,369.6 L998.1,367.7 L998.8,365.8 L999.4,363.9 L1000.1,362.0 L1000.8,360.2 L1001.4,358.3 L1002.1,356.4 L1002.8,354.5 L1003.4,352.6 L1004.1,350.7 L1004.8,348.9 L1005.4,347.0 L1006.1,345.1 L1006.7,343.2 L1007.4,341.3 L1008.1,339.5 L1008.8,337.6 L1009.5,335.7 L1010.2,333.9 L1011.0,332.0 L1011.7,330.1 L1012.4,328.3 L1013.2,326.5 L1014.0,324.6 L1014.7,322.8 L1015.5,320.9 L1016.3,319.1 L1017.1,317.3 L1017.9,315.5 L1018.7,313.6 L1019.6,311.8 L1020.4,310.0 L1021.2,308.2 L1022.0,306.4 L1022.9,304.5 L1023.7,302.7 L1024.6,300.9 L1025.4,299.1 L1026.2,297.3 L1027.1,295.5 L1027.9,293.7 L1028.8,291.9 L1029.7,290.1 L1030.5,288.3 L1031.4,286.5 L1032.3,284.7 L1033.2,282.9 L1034.2,281.2 L1035.1,279.4 L1036.1,277.7 L1037.1,276.0 L1038.2,274.3 L1039.3,272.6 L1040.4,271.0 L1041.5,269.3 L1042.7,267.8 L1044.0,266.2 L1045.3,264.7 L1046.6,263.3 L1048.1,261.9 L1049.6,260.6 L1051.2,259.4 L1052.8,258.3 L1054.5,257.4 L1056.3,256.6 L1058.2,256.1 L1060.2,255.7 L1062.1,255.5 L1064.0,255.8 L1065.9,256.3 L1067.8,257.0 L1069.6,257.8 L1071.2,258.8 L1072.8,260.0 L1074.2,261.3 L1075.6,262.7 L1077.0,264.2 L1078.2,265.7 L1079.4,267.3 L1080.5,268.9 L1081.6,270.6 L1082.6,272.3 L1083.6,274.1 L1084.5,275.8 L1085.4,277.6 L1086.3,279.4 L1087.1,281.2 L1088.0,283.0 L1088.8,284.8 L1089.6,286.7 L1090.4,288.5 L1091.1,290.3 L1091.9,292.2 L1092.6,294.1 L1093.3,295.9 L1094.0,297.8 L1094.6,299.7 L1095.3,301.6 L1095.9,303.5 L1096.5,305.4 L1097.1,307.3 L1097.7,309.2 L1098.3,311.1 L1098.9,313.0 L1099.5,314.9 L1100.0,316.8 L1100.5,318.8 L1101.1,320.7 L1101.6,322.6 L1102.1,324.6 L1102.6,326.5 L1103.1,328.4 L1103.6,330.4 L1104.1,332.3 L1104.6,334.2 L1105.0,336.2 L1105.5,338.1 L1106.0,340.1 L1106.5,342.0 L1107.0,343.9 L1107.4,345.9 L1107.9,347.8 L1108.4,349.8 L1108.8,351.7 L1109.3,353.7 L1109.8,355.6 L1110.2,357.6 L1110.7,359.5 L1111.2,361.4 L1111.6,363.4 L1112.1,365.3 L1112.6,367.3 L1113.0,369.2 L1113.5,371.2 L1114.0,373.1 L1114.4,375.1 L1114.9,377.0 L1115.3,378.9 L1115.8,380.9 L1116.3,382.8 L1116.7,384.8 L1117.2,386.7 L1117.6,388.7 L1118.1,390.6 L1118.6,392.6 L1119.0,394.5 L1119.5,396.5 L1119.9,398.4 L1120.4,400.4 L1120.9,402.3 L1121.3,404.3 L1121.8,406.2 L1122.2,408.1 L1122.7,410.1 L1123.1,412.0 L1123.6,414.0 L1124.0,415.9 L1124.5,417.9 L1124.9,419.8 L1125.4,421.8 L1125.8,423.7 L1126.3,425.7 L1126.7,427.6 L1127.2,429.6 L1127.6,431.5 L1128.0,433.5 L1128.5,435.4 L1128.9,437.4 L1129.3,439.3 L1129.8,441.3 L1130.2,443.2 L1130.6,445.2 L1131.0,447.2 L1131.5,449.1 L1131.9,451.1 L1132.3,453.0 L1132.8,455.0 L1133.2,456.9 L1133.6,458.9 L1134.1,460.8 L1134.5,462.8 L1134.9,464.7 L1135.4,466.7 L1135.8,468.6 L1136.2,470.6 L1136.7,472.5 L1137.1,474.5 L1137.6,476.4 L1138.0,478.4 L1138.5,480.3 L1138.9,482.3 L1139.4,484.2 L1139.9,486.2 L1140.3,488.1 L1140.8,490.1 L1141.3,492.0 L1141.7,493.9 L1142.2,495.9 L1142.7,497.8 L1143.1,499.8 L1143.6,501.7 L1144.1,503.7 L1144.6,505.6 L1145.0,507.5 L1145.5,509.5 L1146.0,511.4 L1146.5,513.4 L1147.0,515.3 L1147.4,517.3 L1147.9,519.2 L1148.4,521.1 L1148.9,523.1 L1149.4,525.0 L1149.9,527.0 L1150.3,528.9 L1150.8,530.8 L1151.3,532.8 L1151.8,534.7 L1152.3,536.7 L1152.8,538.6 L1153.2,540.5 L1153.7,542.5 L1154.2,544.4 L1154.7,546.4 L1155.2,548.3 L1155.7,550.2 L1156.1,552.2 L1156.6,554.1 L1157.1,556.1 L1157.6,558.0 L1158.0,560.0 L1158.5,561.9 L1159.0,563.8 L1159.5,565.8 L1159.9,567.7 L1160.4,569.7 L1160.9,571.6 L1161.3,573.6 L1161.8,575.5 L1162.3,577.4 L1162.8,579.4 L1163.2,581.3 L1163.7,583.3 L1164.2,585.2 L1164.7,587.2 L1165.2,589.1 L1165.6,591.0 L1166.1,593.0 L1166.6,594.9 L1167.1,596.8 L1167.6,598.8 L1168.1,600.7 L1168.6,602.7 L1169.1,604.6 L1169.7,606.5 L1170.2,608.4 L1170.7,610.4 L1171.2,612.3 L1171.8,614.2 L1172.3,616.1 L1172.9,618.1 L1173.5,620.0 L1174.1,621.9 L1174.6,623.8 L1175.2,625.7 L1175.8,627.6 L1176.4,629.5 L1177.1,631.4 L1177.7,633.3 L1178.3,635.2 L1178.9,637.1 L1179.6,639.0 L1180.2,640.9 L1180.8,642.8 L1181.4,644.7 L1182.0,646.6 L1182.7,648.5 L1183.3,650.4 L1183.9,652.3 L1184.6,654.2 L1185.2,656.1 L1185.8,658.0 L1186.5,659.9 L1187.1,661.8 L1187.8,663.7 L1188.4,665.6 L1189.1,667.4 L1189.7,669.3 L1190.4,671.2 L1191.1,673.1 L1191.8,675.0 L1192.5,676.8 L1193.2,678.7 L1193.9,680.6 L1194.6,682.4 L1195.3,684.3 L1196.1,686.2 L1196.8,688.0 L1197.6,689.9 L1198.3,691.7 L1199.1,693.5 L1199.7,695.5 L1200.5,697.3 L1201.3,699.1 L1202.1,700.9 L1202.9,702.8 L1203.8,704.6 L1204.6,706.4 L1205.5,708.2 L1206.3,710.0 L1207.2,711.8 L1208.1,713.6 L1209.0,715.4 L1209.9,717.1 L1210.8,718.9 L1211.7,720.7 L1212.6,722.5 L1213.5,724.2 L1214.5,726.0 L1215.4,727.8 L1216.4,729.5 L1217.3,731.3 L1218.2,733.1 L1219.2,734.8 L1220.1,736.6 L1221.1,738.3 L1222.1,740.1 L1223.0,741.8 L1224.0,743.6 L1224.9,745.4 L1225.9,747.1 L1226.9,748.9 L1227.8,750.6 L1228.8,752.4 L1229.7,754.1 L1230.7,755.9 L1231.6,757.6 L1232.6,759.4 L1233.6,761.2 L1234.5,762.9 L1235.5,764.7 L1236.4,766.4 L1237.4,768.2 L1238.3,769.9 L1239.3,771.7 L1240.2,773.5 L1241.1,775.2 L1242.0,777.0 L1243.0,778.8 L1243.9,780.6 L1244.8,782.3 L1245.7,784.1 L1246.5,785.9 L1247.4,787.7 L1248.3,789.5 L1249.1,791.3 L1250.0,793.1 L1250.8,794.9 L1251.6,796.8 L1252.4,798.6 L1253.1,800.4 L1253.9,802.3 L1254.6,804.1 L1255.3,806.0 L1256.0,807.9 L1256.6,809.8 L1257.3,811.7 L1257.9,813.6 L1258.4,815.5 L1259.0,817.4 L1259.5,819.3 L1260.0,821.2 L1260.5,823.2 L1260.9,825.1 L1261.3,827.1 L1261.7,829.0 L1262.1,831.0 L1262.5,832.9 L1262.8,834.9 L1263.2,836.9 L1263.5,838.8 L1263.8,840.8 L1264.2,842.8 L1264.5,844.8 L1264.8,846.7 L1265.0,848.7 L1265.3,850.7 L1265.6,852.7 L1265.9,854.7 L1266.1,856.7 L1266.4,858.6 L1266.6,860.6 L1266.9,862.6 L1267.1,864.6 L1267.3,866.6 L1267.5,868.6 L1267.8,870.6 L1268.0,872.5 L1268.2,874.5 L1268.4,876.5 L1268.7,878.5 L1268.9,880.5 L1269.1,882.5 L1269.2,883.4" stroke="#000080"/>
</g>
<g stroke="#000" stroke-width="3.4" stroke-linecap="round" stroke-linejoin="round" fill="none">
<path d="M176.4,9.0 H185.8 V998.9"/><path d="M176.4,980.2 H1391.8 V998.9"/>
<line x1="166.4" y1="883.5" x2="185.8" y2="883.5"/><line x1="166.4" y1="689.2" x2="185.8" y2="689.2"/><line x1="166.4" y1="494.8" x2="185.8" y2="494.8"/><line x1="166.4" y1="300.5" x2="185.8" y2="300.5"/><line x1="166.4" y1="106.1" x2="185.8" y2="106.1"/><line x1="176.4" y1="786.3" x2="185.8" y2="786.3"/><line x1="176.4" y1="592.0" x2="185.8" y2="592.0"/><line x1="176.4" y1="397.6" x2="185.8" y2="397.6"/><line x1="176.4" y1="203.3" x2="185.8" y2="203.3"/><line x1="427.0" y1="980.2" x2="427.0" y2="998.9"/><line x1="668.2" y1="980.2" x2="668.2" y2="998.9"/><line x1="909.4" y1="980.2" x2="909.4" y2="998.9"/><line x1="1150.6" y1="980.2" x2="1150.6" y2="998.9"/><line x1="306.4" y1="980.2" x2="306.4" y2="989.2"/><line x1="547.6" y1="980.2" x2="547.6" y2="989.2"/><line x1="788.8" y1="980.2" x2="788.8" y2="989.2"/><line x1="1030.0" y1="980.2" x2="1030.0" y2="989.2"/><line x1="1271.2" y1="980.2" x2="1271.2" y2="989.2"/>
</g>
<g font-size="43"><text transform="translate(155,896.3) scale(1,1.05)" text-anchor="end">0.0</text><text transform="translate(155,702.0) scale(1,1.05)" text-anchor="end">0.2</text><text transform="translate(155,505.8) scale(1,1.05)" text-anchor="end">0.4</text><text transform="translate(155,313.3) scale(1,1.05)" text-anchor="end">0.6</text><text transform="translate(155,118.9) scale(1,1.05)" text-anchor="end">0.8</text><text transform="translate(185.8,1045) scale(1,1.05)" text-anchor="middle">20</text><text transform="translate(427.0,1045) scale(1,1.05)" text-anchor="middle">25</text><text transform="translate(668.2,1045) scale(1,1.05)" text-anchor="middle">30</text><text transform="translate(909.4,1045) scale(1,1.05)" text-anchor="middle">35</text><text transform="translate(1150.6,1045) scale(1,1.05)" text-anchor="middle">40</text><text transform="translate(1391.8,1045) scale(1,1.05)" text-anchor="middle">45</text></g>
<g stroke-width="4.7" stroke-linecap="round"><line x1="217" y1="34.0" x2="309" y2="34.0" stroke="#000000"/><line x1="217" y1="85.6" x2="309" y2="85.6" stroke="#ff0000"/><line x1="217" y1="137.2" x2="309" y2="137.2" stroke="#0000ff"/><line x1="217" y1="188.8" x2="309" y2="188.8" stroke="#ff00ff"/><line x1="217" y1="240.4" x2="309" y2="240.4" stroke="#008000"/><line x1="217" y1="292.0" x2="309" y2="292.0" stroke="#000080"/></g>
<g font-size="41.5"><text transform="translate(320.5,48.5) scale(1,1.05)">WCS</text><text transform="translate(320.5,100.1) scale(1,1.05)">CS</text><text transform="translate(320.5,151.7) scale(1,1.05)">HACS 50</text><text transform="translate(320.5,203.3) scale(1,1.05)">HACS 60</text><text transform="translate(320.5,254.9) scale(1,1.05)">HACS 70</text><text transform="translate(320.5,306.5) scale(1,1.05)">HACS 80</text></g>
<text transform="translate(768,1127) scale(1,1.02)" font-size="50.3" text-anchor="middle">Reaction time (min)</text>
<text transform="translate(41.5,478.5) rotate(-90) scale(1,1.02)" font-size="50.4" text-anchor="middle">Response trace</text>
</svg>
</body></html>
